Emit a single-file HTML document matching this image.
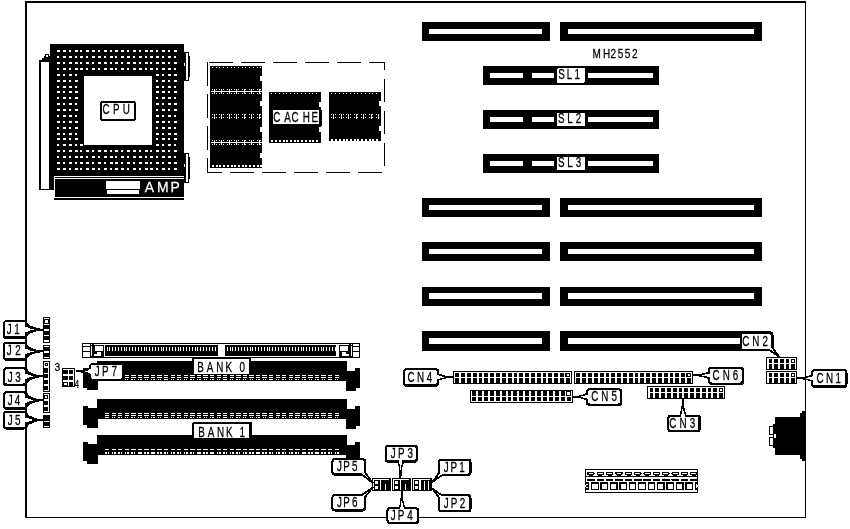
<!DOCTYPE html>
<html lang="en">
<head>
<meta charset="utf-8">
<title>MH2552 motherboard layout</title>
<style>
html,body{margin:0;padding:0;background:#fff;}
body{width:850px;height:529px;overflow:hidden;}
svg{display:block;font-family:"Liberation Sans",sans-serif;will-change:transform;}
svg rect,svg polygon,svg path{shape-rendering:crispEdges;}
svg text{white-space:pre;}
</style>
</head>
<body>
<svg width="850" height="529" viewBox="0 0 850 529">
<rect x="0" y="0" width="850" height="529" fill="#fff"/>
<rect x="25" y="1" width="781" height="517" fill="#000"/>
<rect x="27" y="3" width="778" height="514" fill="#fff"/>
<rect x="39" y="60" width="11" height="130" fill="#000"/>
<rect x="41" y="62" width="8" height="126.6" fill="#fff"/>
<rect x="42" y="58" width="8" height="2" fill="#000"/>
<rect x="44" y="56" width="6" height="2" fill="#000"/>
<rect x="45" y="54" width="4" height="2" fill="#000"/>
<rect x="46" y="55" width="2" height="2" fill="#fff"/>
<rect x="50" y="44" width="134" height="132" fill="#000"/>
<rect x="49" y="170" width="5.4" height="20" fill="#000"/>
<rect x="57" y="50" width="3" height="2" fill="#fff"/>
<rect x="63" y="50" width="3" height="2" fill="#fff"/>
<rect x="69" y="50" width="2" height="2" fill="#fff"/>
<rect x="75" y="50" width="3" height="2" fill="#fff"/>
<rect x="80" y="50" width="2" height="2" fill="#fff"/>
<rect x="86" y="50" width="3" height="2" fill="#fff"/>
<rect x="92" y="50" width="3" height="2" fill="#fff"/>
<rect x="98" y="50" width="2" height="2" fill="#fff"/>
<rect x="104" y="50" width="3" height="2" fill="#fff"/>
<rect x="110" y="50" width="2" height="2" fill="#fff"/>
<rect x="115" y="50" width="3" height="2" fill="#fff"/>
<rect x="121" y="50" width="3" height="2" fill="#fff"/>
<rect x="127" y="50" width="2" height="2" fill="#fff"/>
<rect x="133" y="50" width="3" height="2" fill="#fff"/>
<rect x="139" y="50" width="2" height="2" fill="#fff"/>
<rect x="145" y="50" width="3" height="2" fill="#fff"/>
<rect x="150" y="50" width="3" height="2" fill="#fff"/>
<rect x="156" y="50" width="2" height="2" fill="#fff"/>
<rect x="162" y="50" width="3" height="2" fill="#fff"/>
<rect x="168" y="50" width="2" height="2" fill="#fff"/>
<rect x="174" y="50" width="3" height="2" fill="#fff"/>
<rect x="57" y="56" width="2" height="2" fill="#fff"/>
<rect x="63" y="56" width="3" height="2" fill="#fff"/>
<rect x="69" y="56" width="3" height="2" fill="#fff"/>
<rect x="75" y="56" width="2" height="2" fill="#fff"/>
<rect x="80" y="56" width="3" height="2" fill="#fff"/>
<rect x="86" y="56" width="2" height="2" fill="#fff"/>
<rect x="92" y="56" width="3" height="2" fill="#fff"/>
<rect x="98" y="56" width="3" height="2" fill="#fff"/>
<rect x="104" y="56" width="2" height="2" fill="#fff"/>
<rect x="110" y="56" width="3" height="2" fill="#fff"/>
<rect x="115" y="56" width="2" height="2" fill="#fff"/>
<rect x="121" y="56" width="3" height="2" fill="#fff"/>
<rect x="127" y="56" width="3" height="2" fill="#fff"/>
<rect x="133" y="56" width="2" height="2" fill="#fff"/>
<rect x="139" y="56" width="3" height="2" fill="#fff"/>
<rect x="145" y="56" width="2" height="2" fill="#fff"/>
<rect x="150" y="56" width="3" height="2" fill="#fff"/>
<rect x="156" y="56" width="3" height="2" fill="#fff"/>
<rect x="162" y="56" width="2" height="2" fill="#fff"/>
<rect x="168" y="56" width="3" height="2" fill="#fff"/>
<rect x="174" y="56" width="2" height="2" fill="#fff"/>
<rect x="57" y="62" width="3" height="2" fill="#fff"/>
<rect x="63" y="62" width="2" height="2" fill="#fff"/>
<rect x="69" y="62" width="3" height="2" fill="#fff"/>
<rect x="75" y="62" width="3" height="2" fill="#fff"/>
<rect x="80" y="62" width="2" height="2" fill="#fff"/>
<rect x="86" y="62" width="3" height="2" fill="#fff"/>
<rect x="92" y="62" width="2" height="2" fill="#fff"/>
<rect x="98" y="62" width="3" height="2" fill="#fff"/>
<rect x="104" y="62" width="3" height="2" fill="#fff"/>
<rect x="110" y="62" width="2" height="2" fill="#fff"/>
<rect x="115" y="62" width="3" height="2" fill="#fff"/>
<rect x="121" y="62" width="2" height="2" fill="#fff"/>
<rect x="127" y="62" width="3" height="2" fill="#fff"/>
<rect x="133" y="62" width="3" height="2" fill="#fff"/>
<rect x="139" y="62" width="2" height="2" fill="#fff"/>
<rect x="145" y="62" width="3" height="2" fill="#fff"/>
<rect x="150" y="62" width="2" height="2" fill="#fff"/>
<rect x="156" y="62" width="3" height="2" fill="#fff"/>
<rect x="162" y="62" width="3" height="2" fill="#fff"/>
<rect x="168" y="62" width="2" height="2" fill="#fff"/>
<rect x="174" y="62" width="3" height="2" fill="#fff"/>
<rect x="57" y="68" width="2" height="2" fill="#fff"/>
<rect x="63" y="68" width="3" height="2" fill="#fff"/>
<rect x="69" y="68" width="2" height="2" fill="#fff"/>
<rect x="75" y="68" width="3" height="2" fill="#fff"/>
<rect x="80" y="68" width="3" height="2" fill="#fff"/>
<rect x="86" y="68" width="2" height="2" fill="#fff"/>
<rect x="92" y="68" width="3" height="2" fill="#fff"/>
<rect x="98" y="68" width="2" height="2" fill="#fff"/>
<rect x="104" y="68" width="3" height="2" fill="#fff"/>
<rect x="110" y="68" width="3" height="2" fill="#fff"/>
<rect x="115" y="68" width="2" height="2" fill="#fff"/>
<rect x="121" y="68" width="3" height="2" fill="#fff"/>
<rect x="127" y="68" width="2" height="2" fill="#fff"/>
<rect x="133" y="68" width="3" height="2" fill="#fff"/>
<rect x="139" y="68" width="3" height="2" fill="#fff"/>
<rect x="145" y="68" width="2" height="2" fill="#fff"/>
<rect x="150" y="68" width="3" height="2" fill="#fff"/>
<rect x="156" y="68" width="2" height="2" fill="#fff"/>
<rect x="162" y="68" width="3" height="2" fill="#fff"/>
<rect x="168" y="68" width="3" height="2" fill="#fff"/>
<rect x="174" y="68" width="2" height="2" fill="#fff"/>
<rect x="57" y="74" width="3" height="2" fill="#fff"/>
<rect x="63" y="74" width="2" height="2" fill="#fff"/>
<rect x="69" y="74" width="3" height="2" fill="#fff"/>
<rect x="75" y="74" width="2" height="2" fill="#fff"/>
<rect x="156" y="74" width="3" height="2" fill="#fff"/>
<rect x="162" y="74" width="2" height="2" fill="#fff"/>
<rect x="168" y="74" width="3" height="2" fill="#fff"/>
<rect x="174" y="74" width="3" height="2" fill="#fff"/>
<rect x="57" y="80" width="3" height="2" fill="#fff"/>
<rect x="63" y="80" width="3" height="2" fill="#fff"/>
<rect x="69" y="80" width="2" height="2" fill="#fff"/>
<rect x="75" y="80" width="3" height="2" fill="#fff"/>
<rect x="156" y="80" width="2" height="2" fill="#fff"/>
<rect x="162" y="80" width="3" height="2" fill="#fff"/>
<rect x="168" y="80" width="2" height="2" fill="#fff"/>
<rect x="174" y="80" width="3" height="2" fill="#fff"/>
<rect x="57" y="86" width="2" height="2" fill="#fff"/>
<rect x="63" y="86" width="3" height="2" fill="#fff"/>
<rect x="69" y="86" width="3" height="2" fill="#fff"/>
<rect x="75" y="86" width="2" height="2" fill="#fff"/>
<rect x="156" y="86" width="3" height="2" fill="#fff"/>
<rect x="162" y="86" width="2" height="2" fill="#fff"/>
<rect x="168" y="86" width="3" height="2" fill="#fff"/>
<rect x="174" y="86" width="2" height="2" fill="#fff"/>
<rect x="57" y="91" width="3" height="2" fill="#fff"/>
<rect x="63" y="91" width="2" height="2" fill="#fff"/>
<rect x="69" y="91" width="3" height="2" fill="#fff"/>
<rect x="75" y="91" width="3" height="2" fill="#fff"/>
<rect x="156" y="91" width="3" height="2" fill="#fff"/>
<rect x="162" y="91" width="3" height="2" fill="#fff"/>
<rect x="168" y="91" width="2" height="2" fill="#fff"/>
<rect x="174" y="91" width="3" height="2" fill="#fff"/>
<rect x="57" y="97" width="2" height="2" fill="#fff"/>
<rect x="63" y="97" width="3" height="2" fill="#fff"/>
<rect x="69" y="97" width="2" height="2" fill="#fff"/>
<rect x="75" y="97" width="3" height="2" fill="#fff"/>
<rect x="156" y="97" width="2" height="2" fill="#fff"/>
<rect x="162" y="97" width="3" height="2" fill="#fff"/>
<rect x="168" y="97" width="3" height="2" fill="#fff"/>
<rect x="174" y="97" width="2" height="2" fill="#fff"/>
<rect x="57" y="103" width="3" height="2" fill="#fff"/>
<rect x="63" y="103" width="2" height="2" fill="#fff"/>
<rect x="69" y="103" width="3" height="2" fill="#fff"/>
<rect x="75" y="103" width="2" height="2" fill="#fff"/>
<rect x="156" y="103" width="3" height="2" fill="#fff"/>
<rect x="162" y="103" width="2" height="2" fill="#fff"/>
<rect x="168" y="103" width="3" height="2" fill="#fff"/>
<rect x="174" y="103" width="3" height="2" fill="#fff"/>
<rect x="57" y="109" width="3" height="2" fill="#fff"/>
<rect x="63" y="109" width="3" height="2" fill="#fff"/>
<rect x="69" y="109" width="2" height="2" fill="#fff"/>
<rect x="75" y="109" width="3" height="2" fill="#fff"/>
<rect x="156" y="109" width="2" height="2" fill="#fff"/>
<rect x="162" y="109" width="3" height="2" fill="#fff"/>
<rect x="168" y="109" width="2" height="2" fill="#fff"/>
<rect x="174" y="109" width="3" height="2" fill="#fff"/>
<rect x="57" y="115" width="2" height="2" fill="#fff"/>
<rect x="63" y="115" width="3" height="2" fill="#fff"/>
<rect x="69" y="115" width="3" height="2" fill="#fff"/>
<rect x="75" y="115" width="2" height="2" fill="#fff"/>
<rect x="156" y="115" width="3" height="2" fill="#fff"/>
<rect x="162" y="115" width="2" height="2" fill="#fff"/>
<rect x="168" y="115" width="3" height="2" fill="#fff"/>
<rect x="174" y="115" width="2" height="2" fill="#fff"/>
<rect x="57" y="121" width="3" height="2" fill="#fff"/>
<rect x="63" y="121" width="2" height="2" fill="#fff"/>
<rect x="69" y="121" width="3" height="2" fill="#fff"/>
<rect x="75" y="121" width="3" height="2" fill="#fff"/>
<rect x="156" y="121" width="3" height="2" fill="#fff"/>
<rect x="162" y="121" width="3" height="2" fill="#fff"/>
<rect x="168" y="121" width="2" height="2" fill="#fff"/>
<rect x="174" y="121" width="3" height="2" fill="#fff"/>
<rect x="57" y="127" width="2" height="2" fill="#fff"/>
<rect x="63" y="127" width="3" height="2" fill="#fff"/>
<rect x="69" y="127" width="2" height="2" fill="#fff"/>
<rect x="75" y="127" width="3" height="2" fill="#fff"/>
<rect x="156" y="127" width="2" height="2" fill="#fff"/>
<rect x="162" y="127" width="3" height="2" fill="#fff"/>
<rect x="168" y="127" width="3" height="2" fill="#fff"/>
<rect x="174" y="127" width="2" height="2" fill="#fff"/>
<rect x="57" y="133" width="3" height="2" fill="#fff"/>
<rect x="63" y="133" width="2" height="2" fill="#fff"/>
<rect x="69" y="133" width="3" height="2" fill="#fff"/>
<rect x="75" y="133" width="2" height="2" fill="#fff"/>
<rect x="156" y="133" width="3" height="2" fill="#fff"/>
<rect x="162" y="133" width="2" height="2" fill="#fff"/>
<rect x="168" y="133" width="3" height="2" fill="#fff"/>
<rect x="174" y="133" width="3" height="2" fill="#fff"/>
<rect x="57" y="138" width="3" height="2" fill="#fff"/>
<rect x="63" y="138" width="3" height="2" fill="#fff"/>
<rect x="69" y="138" width="2" height="2" fill="#fff"/>
<rect x="75" y="138" width="3" height="2" fill="#fff"/>
<rect x="156" y="138" width="2" height="2" fill="#fff"/>
<rect x="162" y="138" width="3" height="2" fill="#fff"/>
<rect x="168" y="138" width="2" height="2" fill="#fff"/>
<rect x="174" y="138" width="3" height="2" fill="#fff"/>
<rect x="57" y="144" width="2" height="2" fill="#fff"/>
<rect x="63" y="144" width="3" height="2" fill="#fff"/>
<rect x="69" y="144" width="3" height="2" fill="#fff"/>
<rect x="75" y="144" width="2" height="2" fill="#fff"/>
<rect x="80" y="144" width="3" height="2" fill="#fff"/>
<rect x="156" y="144" width="3" height="2" fill="#fff"/>
<rect x="162" y="144" width="2" height="2" fill="#fff"/>
<rect x="168" y="144" width="3" height="2" fill="#fff"/>
<rect x="174" y="144" width="2" height="2" fill="#fff"/>
<rect x="57" y="150" width="3" height="2" fill="#fff"/>
<rect x="63" y="150" width="2" height="2" fill="#fff"/>
<rect x="69" y="150" width="3" height="2" fill="#fff"/>
<rect x="75" y="150" width="3" height="2" fill="#fff"/>
<rect x="80" y="150" width="2" height="2" fill="#fff"/>
<rect x="86" y="150" width="3" height="2" fill="#fff"/>
<rect x="92" y="150" width="2" height="2" fill="#fff"/>
<rect x="98" y="150" width="3" height="2" fill="#fff"/>
<rect x="104" y="150" width="3" height="2" fill="#fff"/>
<rect x="110" y="150" width="2" height="2" fill="#fff"/>
<rect x="115" y="150" width="3" height="2" fill="#fff"/>
<rect x="121" y="150" width="2" height="2" fill="#fff"/>
<rect x="127" y="150" width="3" height="2" fill="#fff"/>
<rect x="133" y="150" width="3" height="2" fill="#fff"/>
<rect x="139" y="150" width="2" height="2" fill="#fff"/>
<rect x="145" y="150" width="3" height="2" fill="#fff"/>
<rect x="150" y="150" width="2" height="2" fill="#fff"/>
<rect x="156" y="150" width="3" height="2" fill="#fff"/>
<rect x="162" y="150" width="3" height="2" fill="#fff"/>
<rect x="168" y="150" width="2" height="2" fill="#fff"/>
<rect x="174" y="150" width="3" height="2" fill="#fff"/>
<rect x="57" y="156" width="2" height="2" fill="#fff"/>
<rect x="63" y="156" width="3" height="2" fill="#fff"/>
<rect x="69" y="156" width="2" height="2" fill="#fff"/>
<rect x="75" y="156" width="3" height="2" fill="#fff"/>
<rect x="80" y="156" width="3" height="2" fill="#fff"/>
<rect x="86" y="156" width="2" height="2" fill="#fff"/>
<rect x="92" y="156" width="3" height="2" fill="#fff"/>
<rect x="98" y="156" width="2" height="2" fill="#fff"/>
<rect x="104" y="156" width="3" height="2" fill="#fff"/>
<rect x="110" y="156" width="3" height="2" fill="#fff"/>
<rect x="115" y="156" width="2" height="2" fill="#fff"/>
<rect x="121" y="156" width="3" height="2" fill="#fff"/>
<rect x="127" y="156" width="2" height="2" fill="#fff"/>
<rect x="133" y="156" width="3" height="2" fill="#fff"/>
<rect x="139" y="156" width="3" height="2" fill="#fff"/>
<rect x="145" y="156" width="2" height="2" fill="#fff"/>
<rect x="150" y="156" width="3" height="2" fill="#fff"/>
<rect x="156" y="156" width="2" height="2" fill="#fff"/>
<rect x="162" y="156" width="3" height="2" fill="#fff"/>
<rect x="168" y="156" width="3" height="2" fill="#fff"/>
<rect x="174" y="156" width="2" height="2" fill="#fff"/>
<rect x="57" y="162" width="3" height="2" fill="#fff"/>
<rect x="63" y="162" width="2" height="2" fill="#fff"/>
<rect x="69" y="162" width="3" height="2" fill="#fff"/>
<rect x="75" y="162" width="2" height="2" fill="#fff"/>
<rect x="80" y="162" width="3" height="2" fill="#fff"/>
<rect x="86" y="162" width="3" height="2" fill="#fff"/>
<rect x="92" y="162" width="2" height="2" fill="#fff"/>
<rect x="98" y="162" width="3" height="2" fill="#fff"/>
<rect x="104" y="162" width="2" height="2" fill="#fff"/>
<rect x="110" y="162" width="3" height="2" fill="#fff"/>
<rect x="115" y="162" width="3" height="2" fill="#fff"/>
<rect x="121" y="162" width="2" height="2" fill="#fff"/>
<rect x="127" y="162" width="3" height="2" fill="#fff"/>
<rect x="133" y="162" width="2" height="2" fill="#fff"/>
<rect x="139" y="162" width="3" height="2" fill="#fff"/>
<rect x="145" y="162" width="3" height="2" fill="#fff"/>
<rect x="150" y="162" width="2" height="2" fill="#fff"/>
<rect x="156" y="162" width="3" height="2" fill="#fff"/>
<rect x="162" y="162" width="2" height="2" fill="#fff"/>
<rect x="168" y="162" width="3" height="2" fill="#fff"/>
<rect x="174" y="162" width="3" height="2" fill="#fff"/>
<rect x="57" y="168" width="3" height="2" fill="#fff"/>
<rect x="63" y="168" width="3" height="2" fill="#fff"/>
<rect x="69" y="168" width="2" height="2" fill="#fff"/>
<rect x="75" y="168" width="3" height="2" fill="#fff"/>
<rect x="80" y="168" width="2" height="2" fill="#fff"/>
<rect x="86" y="168" width="3" height="2" fill="#fff"/>
<rect x="92" y="168" width="3" height="2" fill="#fff"/>
<rect x="98" y="168" width="2" height="2" fill="#fff"/>
<rect x="104" y="168" width="3" height="2" fill="#fff"/>
<rect x="110" y="168" width="2" height="2" fill="#fff"/>
<rect x="115" y="168" width="3" height="2" fill="#fff"/>
<rect x="121" y="168" width="3" height="2" fill="#fff"/>
<rect x="127" y="168" width="2" height="2" fill="#fff"/>
<rect x="133" y="168" width="3" height="2" fill="#fff"/>
<rect x="139" y="168" width="2" height="2" fill="#fff"/>
<rect x="145" y="168" width="3" height="2" fill="#fff"/>
<rect x="150" y="168" width="3" height="2" fill="#fff"/>
<rect x="156" y="168" width="2" height="2" fill="#fff"/>
<rect x="162" y="168" width="3" height="2" fill="#fff"/>
<rect x="168" y="168" width="2" height="2" fill="#fff"/>
<rect x="174" y="168" width="3" height="2" fill="#fff"/>
<rect x="84" y="76" width="68" height="69" fill="#fff"/>
<rect x="100" y="101" width="36" height="19.8" fill="#000" rx="2.5" shape-rendering="geometricPrecision"/>
<rect x="102" y="103" width="32" height="15.8" fill="#fff" rx="1.2" shape-rendering="geometricPrecision"/>
<text transform="scale(0.68,1)" x="150.73 166.16 180.65" y="114" font-size="14.5" fill="#000" stroke="#000" stroke-width="0.25" vector-effect="non-scaling-stroke">CPU</text>
<rect x="54.4" y="176" width="129.6" height="24" fill="#000"/>
<rect x="54.4" y="176" width="129.6" height="1" fill="#fff"/>
<rect x="54.4" y="178.2" width="129.6" height="1" fill="#fff"/>
<rect x="54.4" y="197" width="129.6" height="1.2" fill="#fff"/>
<rect x="54.4" y="176" width="0.9" height="22.2" fill="#fff"/>
<rect x="106" y="181" width="34" height="7.5" fill="#fff"/>
<rect x="107" y="190" width="32" height="4" fill="#fff"/>
<text transform="scale(0.92,1)" x="157.25 170.7 185.45" y="192.4" font-size="15.2" fill="#fff" stroke="#fff" stroke-width="0.25" vector-effect="non-scaling-stroke">AMP</text>
<rect x="184" y="52" width="5.2" height="29" fill="#000"/>
<rect x="186.1" y="53.1" width="2.1" height="26.8" fill="#fff"/>
<rect x="189" y="56" width="1.3" height="21" fill="#000"/>
<rect x="184" y="62.5" width="1" height="3" fill="#fff"/>
<rect x="184" y="153" width="5.2" height="29.6" fill="#000"/>
<rect x="186.1" y="154.1" width="2.1" height="27.4" fill="#fff"/>
<rect x="189" y="157" width="1.3" height="21.6" fill="#000"/>
<rect x="184" y="163.5" width="1" height="3" fill="#fff"/>
<path d="M209 62.5H385" stroke="#000" stroke-width="1" stroke-dasharray="24 8" fill="none"/>
<path d="M207.5 62V172.6" stroke="#000" stroke-width="1" stroke-dasharray="23.6 8.4" fill="none"/>
<path d="M384.5 62V172" stroke="#000" stroke-width="1" stroke-dasharray="23.6 8.4" stroke-dashoffset="15.4" fill="none"/>
<path d="M207 172.5H382" stroke="#000" stroke-width="1" stroke-dasharray="24 8" stroke-dashoffset="9" fill="none"/>
<rect x="210" y="66.2" width="52" height="101.8" fill="#000"/>
<rect x="212" y="67" width="1" height="1" fill="#fff"/>
<rect x="216" y="67" width="1" height="1" fill="#fff"/>
<rect x="219" y="67" width="1" height="1" fill="#fff"/>
<rect x="223" y="67" width="1" height="1" fill="#fff"/>
<rect x="227" y="67" width="1" height="1" fill="#fff"/>
<rect x="231" y="67" width="1" height="1" fill="#fff"/>
<rect x="234" y="67" width="1" height="1" fill="#fff"/>
<rect x="238" y="67" width="1" height="1" fill="#fff"/>
<rect x="242" y="67" width="1" height="1" fill="#fff"/>
<rect x="245" y="67" width="1" height="1" fill="#fff"/>
<rect x="249" y="67" width="1" height="1" fill="#fff"/>
<rect x="253" y="67" width="1" height="1" fill="#fff"/>
<rect x="257" y="67" width="1" height="1" fill="#fff"/>
<rect x="260" y="67" width="1" height="1" fill="#fff"/>
<rect x="212" y="89" width="1" height="1" fill="#fff"/>
<rect x="216" y="89" width="1" height="1" fill="#fff"/>
<rect x="219" y="89" width="1" height="1" fill="#fff"/>
<rect x="223" y="89" width="1" height="1" fill="#fff"/>
<rect x="227" y="89" width="1" height="1" fill="#fff"/>
<rect x="231" y="89" width="1" height="1" fill="#fff"/>
<rect x="234" y="89" width="1" height="1" fill="#fff"/>
<rect x="238" y="89" width="1" height="1" fill="#fff"/>
<rect x="242" y="89" width="1" height="1" fill="#fff"/>
<rect x="245" y="89" width="1" height="1" fill="#fff"/>
<rect x="249" y="89" width="1" height="1" fill="#fff"/>
<rect x="253" y="89" width="1" height="1" fill="#fff"/>
<rect x="257" y="89" width="1" height="1" fill="#fff"/>
<rect x="260" y="89" width="1" height="1" fill="#fff"/>
<rect x="211" y="91" width="51" height="1" fill="#fff"/>
<rect x="214" y="89" width="1" height="5" fill="#fff"/>
<rect x="221" y="89" width="1" height="5" fill="#fff"/>
<rect x="229" y="89" width="1" height="5" fill="#fff"/>
<rect x="236" y="89" width="1" height="5" fill="#fff"/>
<rect x="244" y="89" width="1" height="5" fill="#fff"/>
<rect x="251" y="89" width="1" height="5" fill="#fff"/>
<rect x="259" y="89" width="1" height="5" fill="#fff"/>
<rect x="212" y="93" width="1" height="1" fill="#fff"/>
<rect x="216" y="93" width="1" height="1" fill="#fff"/>
<rect x="219" y="93" width="1" height="1" fill="#fff"/>
<rect x="223" y="93" width="1" height="1" fill="#fff"/>
<rect x="227" y="93" width="1" height="1" fill="#fff"/>
<rect x="231" y="93" width="1" height="1" fill="#fff"/>
<rect x="234" y="93" width="1" height="1" fill="#fff"/>
<rect x="238" y="93" width="1" height="1" fill="#fff"/>
<rect x="242" y="93" width="1" height="1" fill="#fff"/>
<rect x="245" y="93" width="1" height="1" fill="#fff"/>
<rect x="249" y="93" width="1" height="1" fill="#fff"/>
<rect x="253" y="93" width="1" height="1" fill="#fff"/>
<rect x="257" y="93" width="1" height="1" fill="#fff"/>
<rect x="260" y="93" width="1" height="1" fill="#fff"/>
<rect x="212" y="140" width="1" height="1" fill="#fff"/>
<rect x="216" y="140" width="1" height="1" fill="#fff"/>
<rect x="219" y="140" width="1" height="1" fill="#fff"/>
<rect x="223" y="140" width="1" height="1" fill="#fff"/>
<rect x="227" y="140" width="1" height="1" fill="#fff"/>
<rect x="231" y="140" width="1" height="1" fill="#fff"/>
<rect x="234" y="140" width="1" height="1" fill="#fff"/>
<rect x="238" y="140" width="1" height="1" fill="#fff"/>
<rect x="242" y="140" width="1" height="1" fill="#fff"/>
<rect x="245" y="140" width="1" height="1" fill="#fff"/>
<rect x="249" y="140" width="1" height="1" fill="#fff"/>
<rect x="253" y="140" width="1" height="1" fill="#fff"/>
<rect x="257" y="140" width="1" height="1" fill="#fff"/>
<rect x="260" y="140" width="1" height="1" fill="#fff"/>
<rect x="211" y="142" width="51" height="1" fill="#fff"/>
<rect x="214" y="140" width="1" height="5" fill="#fff"/>
<rect x="221" y="140" width="1" height="5" fill="#fff"/>
<rect x="229" y="140" width="1" height="5" fill="#fff"/>
<rect x="236" y="140" width="1" height="5" fill="#fff"/>
<rect x="244" y="140" width="1" height="5" fill="#fff"/>
<rect x="251" y="140" width="1" height="5" fill="#fff"/>
<rect x="259" y="140" width="1" height="5" fill="#fff"/>
<rect x="212" y="144" width="1" height="1" fill="#fff"/>
<rect x="216" y="144" width="1" height="1" fill="#fff"/>
<rect x="219" y="144" width="1" height="1" fill="#fff"/>
<rect x="223" y="144" width="1" height="1" fill="#fff"/>
<rect x="227" y="144" width="1" height="1" fill="#fff"/>
<rect x="231" y="144" width="1" height="1" fill="#fff"/>
<rect x="234" y="144" width="1" height="1" fill="#fff"/>
<rect x="238" y="144" width="1" height="1" fill="#fff"/>
<rect x="242" y="144" width="1" height="1" fill="#fff"/>
<rect x="245" y="144" width="1" height="1" fill="#fff"/>
<rect x="249" y="144" width="1" height="1" fill="#fff"/>
<rect x="253" y="144" width="1" height="1" fill="#fff"/>
<rect x="257" y="144" width="1" height="1" fill="#fff"/>
<rect x="260" y="144" width="1" height="1" fill="#fff"/>
<rect x="212" y="114" width="1" height="1" fill="#fff"/>
<rect x="216" y="114" width="1" height="1" fill="#fff"/>
<rect x="219" y="114" width="1" height="1" fill="#fff"/>
<rect x="223" y="114" width="1" height="1" fill="#fff"/>
<rect x="227" y="114" width="1" height="1" fill="#fff"/>
<rect x="231" y="114" width="1" height="1" fill="#fff"/>
<rect x="234" y="114" width="1" height="1" fill="#fff"/>
<rect x="238" y="114" width="1" height="1" fill="#fff"/>
<rect x="242" y="114" width="1" height="1" fill="#fff"/>
<rect x="245" y="114" width="1" height="1" fill="#fff"/>
<rect x="249" y="114" width="1" height="1" fill="#fff"/>
<rect x="253" y="114" width="1" height="1" fill="#fff"/>
<rect x="257" y="114" width="1" height="1" fill="#fff"/>
<rect x="260" y="114" width="1" height="1" fill="#fff"/>
<rect x="212" y="117" width="1" height="1" fill="#fff"/>
<rect x="216" y="117" width="1" height="1" fill="#fff"/>
<rect x="219" y="117" width="1" height="1" fill="#fff"/>
<rect x="223" y="117" width="1" height="1" fill="#fff"/>
<rect x="227" y="117" width="1" height="1" fill="#fff"/>
<rect x="231" y="117" width="1" height="1" fill="#fff"/>
<rect x="234" y="117" width="1" height="1" fill="#fff"/>
<rect x="238" y="117" width="1" height="1" fill="#fff"/>
<rect x="242" y="117" width="1" height="1" fill="#fff"/>
<rect x="245" y="117" width="1" height="1" fill="#fff"/>
<rect x="249" y="117" width="1" height="1" fill="#fff"/>
<rect x="253" y="117" width="1" height="1" fill="#fff"/>
<rect x="257" y="117" width="1" height="1" fill="#fff"/>
<rect x="260" y="117" width="1" height="1" fill="#fff"/>
<rect x="214" y="114" width="1" height="5" fill="#fff"/>
<rect x="221" y="114" width="1" height="5" fill="#fff"/>
<rect x="229" y="114" width="1" height="5" fill="#fff"/>
<rect x="236" y="114" width="1" height="5" fill="#fff"/>
<rect x="244" y="114" width="1" height="5" fill="#fff"/>
<rect x="251" y="114" width="1" height="5" fill="#fff"/>
<rect x="259" y="114" width="1" height="5" fill="#fff"/>
<rect x="212" y="165" width="2" height="2" fill="#fff"/>
<rect x="216" y="165" width="2" height="2" fill="#fff"/>
<rect x="219" y="165" width="2" height="2" fill="#fff"/>
<rect x="223" y="165" width="2" height="2" fill="#fff"/>
<rect x="227" y="165" width="2" height="2" fill="#fff"/>
<rect x="231" y="165" width="2" height="2" fill="#fff"/>
<rect x="234" y="165" width="2" height="2" fill="#fff"/>
<rect x="238" y="165" width="2" height="2" fill="#fff"/>
<rect x="242" y="165" width="2" height="2" fill="#fff"/>
<rect x="245" y="165" width="2" height="2" fill="#fff"/>
<rect x="249" y="165" width="2" height="2" fill="#fff"/>
<rect x="253" y="165" width="2" height="2" fill="#fff"/>
<rect x="257" y="165" width="2" height="2" fill="#fff"/>
<rect x="260" y="165" width="2" height="2" fill="#fff"/>
<rect x="260" y="76.2" width="2" height="4.6" fill="#fff"/>
<rect x="260" y="101.3" width="2" height="4.6" fill="#fff"/>
<rect x="260" y="127.2" width="2" height="4.6" fill="#fff"/>
<rect x="260" y="153.2" width="2" height="4.6" fill="#fff"/>
<rect x="269.4" y="92" width="51.6" height="50.6" fill="#000"/>
<rect x="321" y="110" width="1.4" height="16" fill="#000"/>
<rect x="271" y="93" width="1" height="1" fill="#fff"/>
<rect x="275" y="93" width="1" height="1" fill="#fff"/>
<rect x="279" y="93" width="1" height="1" fill="#fff"/>
<rect x="283" y="93" width="1" height="1" fill="#fff"/>
<rect x="286" y="93" width="1" height="1" fill="#fff"/>
<rect x="290" y="93" width="1" height="1" fill="#fff"/>
<rect x="294" y="93" width="1" height="1" fill="#fff"/>
<rect x="297" y="93" width="1" height="1" fill="#fff"/>
<rect x="301" y="93" width="1" height="1" fill="#fff"/>
<rect x="305" y="93" width="1" height="1" fill="#fff"/>
<rect x="309" y="93" width="1" height="1" fill="#fff"/>
<rect x="312" y="93" width="1" height="1" fill="#fff"/>
<rect x="316" y="93" width="1" height="1" fill="#fff"/>
<rect x="271" y="140" width="2" height="2" fill="#fff"/>
<rect x="275" y="140" width="2" height="2" fill="#fff"/>
<rect x="279" y="140" width="2" height="2" fill="#fff"/>
<rect x="283" y="140" width="2" height="2" fill="#fff"/>
<rect x="286" y="140" width="2" height="2" fill="#fff"/>
<rect x="290" y="140" width="2" height="2" fill="#fff"/>
<rect x="294" y="140" width="2" height="2" fill="#fff"/>
<rect x="297" y="140" width="2" height="2" fill="#fff"/>
<rect x="301" y="140" width="2" height="2" fill="#fff"/>
<rect x="305" y="140" width="2" height="2" fill="#fff"/>
<rect x="309" y="140" width="2" height="2" fill="#fff"/>
<rect x="312" y="140" width="2" height="2" fill="#fff"/>
<rect x="316" y="140" width="2" height="2" fill="#fff"/>
<rect x="319" y="101.9" width="2" height="4.6" fill="#fff"/>
<rect x="319" y="127.3" width="2" height="4.6" fill="#fff"/>
<rect x="329.4" y="91.8" width="51.6" height="49.6" fill="#000"/>
<rect x="331" y="93" width="1" height="1" fill="#fff"/>
<rect x="335" y="93" width="1" height="1" fill="#fff"/>
<rect x="339" y="93" width="1" height="1" fill="#fff"/>
<rect x="343" y="93" width="1" height="1" fill="#fff"/>
<rect x="346" y="93" width="1" height="1" fill="#fff"/>
<rect x="350" y="93" width="1" height="1" fill="#fff"/>
<rect x="354" y="93" width="1" height="1" fill="#fff"/>
<rect x="357" y="93" width="1" height="1" fill="#fff"/>
<rect x="361" y="93" width="1" height="1" fill="#fff"/>
<rect x="365" y="93" width="1" height="1" fill="#fff"/>
<rect x="369" y="93" width="1" height="1" fill="#fff"/>
<rect x="372" y="93" width="1" height="1" fill="#fff"/>
<rect x="376" y="93" width="1" height="1" fill="#fff"/>
<rect x="331" y="114" width="1" height="1" fill="#fff"/>
<rect x="335" y="114" width="1" height="1" fill="#fff"/>
<rect x="339" y="114" width="1" height="1" fill="#fff"/>
<rect x="343" y="114" width="1" height="1" fill="#fff"/>
<rect x="346" y="114" width="1" height="1" fill="#fff"/>
<rect x="350" y="114" width="1" height="1" fill="#fff"/>
<rect x="354" y="114" width="1" height="1" fill="#fff"/>
<rect x="357" y="114" width="1" height="1" fill="#fff"/>
<rect x="361" y="114" width="1" height="1" fill="#fff"/>
<rect x="365" y="114" width="1" height="1" fill="#fff"/>
<rect x="369" y="114" width="1" height="1" fill="#fff"/>
<rect x="372" y="114" width="1" height="1" fill="#fff"/>
<rect x="376" y="114" width="1" height="1" fill="#fff"/>
<rect x="331" y="117" width="1" height="1" fill="#fff"/>
<rect x="335" y="117" width="1" height="1" fill="#fff"/>
<rect x="339" y="117" width="1" height="1" fill="#fff"/>
<rect x="343" y="117" width="1" height="1" fill="#fff"/>
<rect x="346" y="117" width="1" height="1" fill="#fff"/>
<rect x="350" y="117" width="1" height="1" fill="#fff"/>
<rect x="354" y="117" width="1" height="1" fill="#fff"/>
<rect x="357" y="117" width="1" height="1" fill="#fff"/>
<rect x="361" y="117" width="1" height="1" fill="#fff"/>
<rect x="365" y="117" width="1" height="1" fill="#fff"/>
<rect x="369" y="117" width="1" height="1" fill="#fff"/>
<rect x="372" y="117" width="1" height="1" fill="#fff"/>
<rect x="376" y="117" width="1" height="1" fill="#fff"/>
<rect x="333" y="114" width="1" height="5" fill="#fff"/>
<rect x="341" y="114" width="1" height="5" fill="#fff"/>
<rect x="348" y="114" width="1" height="5" fill="#fff"/>
<rect x="356" y="114" width="1" height="5" fill="#fff"/>
<rect x="363" y="114" width="1" height="5" fill="#fff"/>
<rect x="371" y="114" width="1" height="5" fill="#fff"/>
<rect x="378" y="114" width="1" height="5" fill="#fff"/>
<rect x="331" y="139" width="2" height="2" fill="#fff"/>
<rect x="335" y="139" width="2" height="2" fill="#fff"/>
<rect x="339" y="139" width="2" height="2" fill="#fff"/>
<rect x="343" y="139" width="2" height="2" fill="#fff"/>
<rect x="346" y="139" width="2" height="2" fill="#fff"/>
<rect x="350" y="139" width="2" height="2" fill="#fff"/>
<rect x="354" y="139" width="2" height="2" fill="#fff"/>
<rect x="357" y="139" width="2" height="2" fill="#fff"/>
<rect x="361" y="139" width="2" height="2" fill="#fff"/>
<rect x="365" y="139" width="2" height="2" fill="#fff"/>
<rect x="369" y="139" width="2" height="2" fill="#fff"/>
<rect x="372" y="139" width="2" height="2" fill="#fff"/>
<rect x="376" y="139" width="2" height="2" fill="#fff"/>
<rect x="379" y="101.3" width="2" height="4.6" fill="#fff"/>
<rect x="379" y="126.1" width="2" height="4.6" fill="#fff"/>
<rect x="273" y="110" width="46" height="14" fill="#fff"/>
<text transform="scale(0.68,1)" x="402.03 417.96 428.5 445.05 458.12" y="121.8" font-size="14.5" fill="#000" stroke="#000" stroke-width="0.25" vector-effect="non-scaling-stroke">CACHE</text>
<rect x="422" y="22" width="128" height="19" fill="#000"/>
<rect x="429" y="29" width="113" height="5" fill="#fff"/>
<rect x="560" y="22" width="202" height="19" fill="#000"/>
<rect x="568" y="29" width="186" height="5" fill="#fff"/>
<rect x="422" y="198" width="128" height="19" fill="#000"/>
<rect x="429" y="205" width="113" height="5" fill="#fff"/>
<rect x="560" y="198" width="202" height="19" fill="#000"/>
<rect x="568" y="205" width="186" height="5" fill="#fff"/>
<rect x="422" y="242" width="128" height="19" fill="#000"/>
<rect x="429" y="249" width="113" height="5" fill="#fff"/>
<rect x="560" y="242" width="202" height="19" fill="#000"/>
<rect x="568" y="249" width="186" height="5" fill="#fff"/>
<rect x="422" y="287" width="128" height="19" fill="#000"/>
<rect x="429" y="293" width="113" height="6" fill="#fff"/>
<rect x="560" y="287" width="202" height="19" fill="#000"/>
<rect x="568" y="293" width="186" height="6" fill="#fff"/>
<rect x="422" y="331" width="128" height="20" fill="#000"/>
<rect x="429" y="338" width="113" height="6" fill="#fff"/>
<rect x="560" y="331" width="202" height="20" fill="#000"/>
<rect x="568" y="338" width="186" height="6" fill="#fff"/>
<rect x="483" y="66" width="176" height="19" fill="#000"/>
<rect x="490" y="73" width="33" height="5" fill="#fff"/>
<rect x="532" y="73" width="22" height="5" fill="#fff"/>
<rect x="588" y="73" width="65" height="5" fill="#fff"/>
<rect x="557" y="68" width="28" height="15" fill="#fff" rx="2" shape-rendering="geometricPrecision"/>
<text transform="scale(0.68,1)" x="821.11 833.65 844.85" y="78.8" font-size="14.5" fill="#000" stroke="#000" stroke-width="0.25" vector-effect="non-scaling-stroke">SL1</text>
<rect x="483" y="110" width="176" height="19" fill="#000"/>
<rect x="490" y="117" width="33" height="5" fill="#fff"/>
<rect x="532" y="117" width="22" height="5" fill="#fff"/>
<rect x="588" y="117" width="65" height="5" fill="#fff"/>
<rect x="557" y="112.6" width="28" height="13.8" fill="#fff"/>
<text transform="scale(0.68,1)" x="820.67 834.21 846.78" y="123" font-size="14.5" fill="#000" stroke="#000" stroke-width="0.25" vector-effect="non-scaling-stroke">SL2</text>
<rect x="483" y="154" width="176" height="19" fill="#000"/>
<rect x="490" y="161" width="33" height="5" fill="#fff"/>
<rect x="532" y="161" width="22" height="5" fill="#fff"/>
<rect x="588" y="161" width="65" height="5" fill="#fff"/>
<rect x="557" y="156.6" width="28" height="13.8" fill="#fff"/>
<text transform="scale(0.68,1)" x="820.67 834.07 846.69" y="167" font-size="14.5" fill="#000" stroke="#000" stroke-width="0.25" vector-effect="non-scaling-stroke">SL3</text>
<text transform="scale(0.8,1)" x="740.54 753.73 763.15 772.04 781.04 789.9" y="57.9" font-size="12.5" fill="#000" stroke="#000" stroke-width="0.25" vector-effect="non-scaling-stroke">MH2552</text>
<rect x="453" y="371.2" width="119" height="12.8" fill="#000"/>
<rect x="454" y="372.2" width="117" height="1.1" fill="#fff"/>
<rect x="454" y="372.2" width="1.1" height="10.8" fill="#fff"/>
<rect x="569.9" y="372.2" width="1.1" height="10.8" fill="#fff"/>
<rect x="454" y="376.9" width="117" height="1.4" fill="#fff"/>
<rect x="459.03" y="372.2" width="2" height="10.8" fill="#fff"/>
<rect x="464.86" y="372.2" width="2" height="10.8" fill="#fff"/>
<rect x="470.69" y="372.2" width="2" height="10.8" fill="#fff"/>
<rect x="476.52" y="372.2" width="2" height="10.8" fill="#fff"/>
<rect x="482.35" y="372.2" width="2" height="10.8" fill="#fff"/>
<rect x="488.18" y="372.2" width="2" height="10.8" fill="#fff"/>
<rect x="494.01" y="372.2" width="2" height="10.8" fill="#fff"/>
<rect x="499.84" y="372.2" width="2" height="10.8" fill="#fff"/>
<rect x="505.67" y="372.2" width="2" height="10.8" fill="#fff"/>
<rect x="511.5" y="372.2" width="2" height="10.8" fill="#fff"/>
<rect x="517.33" y="372.2" width="2" height="10.8" fill="#fff"/>
<rect x="523.16" y="372.2" width="2" height="10.8" fill="#fff"/>
<rect x="528.99" y="372.2" width="2" height="10.8" fill="#fff"/>
<rect x="534.82" y="372.2" width="2" height="10.8" fill="#fff"/>
<rect x="540.65" y="372.2" width="2" height="10.8" fill="#fff"/>
<rect x="546.48" y="372.2" width="2" height="10.8" fill="#fff"/>
<rect x="552.31" y="372.2" width="2" height="10.8" fill="#fff"/>
<rect x="558.14" y="372.2" width="2" height="10.8" fill="#fff"/>
<rect x="563.97" y="372.2" width="2" height="10.8" fill="#fff"/>
<rect x="565.37" y="373.3" width="4.43" height="3.6" fill="#000"/>
<rect x="566.67" y="374.2" width="2.43" height="1.8" fill="#fff"/>
<rect x="574.3" y="371.2" width="118.7" height="12.8" fill="#000"/>
<rect x="575.3" y="372.2" width="116.7" height="1.1" fill="#fff"/>
<rect x="575.3" y="372.2" width="1.1" height="10.8" fill="#fff"/>
<rect x="690.9" y="372.2" width="1.1" height="10.8" fill="#fff"/>
<rect x="575.3" y="376.9" width="116.7" height="1.4" fill="#fff"/>
<rect x="580.32" y="372.2" width="2" height="10.8" fill="#fff"/>
<rect x="586.13" y="372.2" width="2" height="10.8" fill="#fff"/>
<rect x="591.95" y="372.2" width="2" height="10.8" fill="#fff"/>
<rect x="597.76" y="372.2" width="2" height="10.8" fill="#fff"/>
<rect x="603.58" y="372.2" width="2" height="10.8" fill="#fff"/>
<rect x="609.39" y="372.2" width="2" height="10.8" fill="#fff"/>
<rect x="615.21" y="372.2" width="2" height="10.8" fill="#fff"/>
<rect x="621.02" y="372.2" width="2" height="10.8" fill="#fff"/>
<rect x="626.84" y="372.2" width="2" height="10.8" fill="#fff"/>
<rect x="632.65" y="372.2" width="2" height="10.8" fill="#fff"/>
<rect x="638.47" y="372.2" width="2" height="10.8" fill="#fff"/>
<rect x="644.28" y="372.2" width="2" height="10.8" fill="#fff"/>
<rect x="650.1" y="372.2" width="2" height="10.8" fill="#fff"/>
<rect x="655.91" y="372.2" width="2" height="10.8" fill="#fff"/>
<rect x="661.73" y="372.2" width="2" height="10.8" fill="#fff"/>
<rect x="667.54" y="372.2" width="2" height="10.8" fill="#fff"/>
<rect x="673.36" y="372.2" width="2" height="10.8" fill="#fff"/>
<rect x="679.17" y="372.2" width="2" height="10.8" fill="#fff"/>
<rect x="684.99" y="372.2" width="2" height="10.8" fill="#fff"/>
<rect x="686.38" y="373.3" width="4.42" height="3.6" fill="#000"/>
<rect x="687.68" y="374.2" width="2.42" height="1.8" fill="#fff"/>
<rect x="470" y="390" width="102.6" height="13" fill="#000"/>
<rect x="471" y="400.9" width="100.6" height="1.1" fill="#fff"/>
<rect x="471" y="391" width="1.1" height="11" fill="#fff"/>
<rect x="570.5" y="391" width="1.1" height="11" fill="#fff"/>
<rect x="471" y="396.1" width="100.6" height="1.3" fill="#fff"/>
<rect x="476.09" y="391" width="2" height="11" fill="#fff"/>
<rect x="481.99" y="391" width="2" height="11" fill="#fff"/>
<rect x="487.88" y="391" width="2" height="11" fill="#fff"/>
<rect x="493.78" y="391" width="2" height="11" fill="#fff"/>
<rect x="499.67" y="391" width="2" height="11" fill="#fff"/>
<rect x="505.56" y="391" width="2" height="11" fill="#fff"/>
<rect x="511.46" y="391" width="2" height="11" fill="#fff"/>
<rect x="517.35" y="391" width="2" height="11" fill="#fff"/>
<rect x="523.25" y="391" width="2" height="11" fill="#fff"/>
<rect x="529.14" y="391" width="2" height="11" fill="#fff"/>
<rect x="535.04" y="391" width="2" height="11" fill="#fff"/>
<rect x="540.93" y="391" width="2" height="11" fill="#fff"/>
<rect x="546.82" y="391" width="2" height="11" fill="#fff"/>
<rect x="552.72" y="391" width="2" height="11" fill="#fff"/>
<rect x="558.61" y="391" width="2" height="11" fill="#fff"/>
<rect x="564.51" y="391" width="2" height="11" fill="#fff"/>
<rect x="565.91" y="391" width="4.49" height="5.1" fill="#000"/>
<rect x="567.21" y="391.9" width="2.49" height="3.3" fill="#fff"/>
<rect x="647.4" y="386" width="77.8" height="13" fill="#000"/>
<rect x="648.4" y="387" width="75.8" height="1.1" fill="#fff"/>
<rect x="648.4" y="387" width="1.1" height="11" fill="#fff"/>
<rect x="723.1" y="387" width="1.1" height="11" fill="#fff"/>
<rect x="648.4" y="391.7" width="75.8" height="1.4" fill="#fff"/>
<rect x="653.4" y="387" width="2" height="11" fill="#fff"/>
<rect x="659.2" y="387" width="2" height="11" fill="#fff"/>
<rect x="665" y="387" width="2" height="11" fill="#fff"/>
<rect x="670.8" y="387" width="2" height="11" fill="#fff"/>
<rect x="676.6" y="387" width="2" height="11" fill="#fff"/>
<rect x="682.4" y="387" width="2" height="11" fill="#fff"/>
<rect x="688.2" y="387" width="2" height="11" fill="#fff"/>
<rect x="694" y="387" width="2" height="11" fill="#fff"/>
<rect x="699.8" y="387" width="2" height="11" fill="#fff"/>
<rect x="705.6" y="387" width="2" height="11" fill="#fff"/>
<rect x="711.4" y="387" width="2" height="11" fill="#fff"/>
<rect x="717.2" y="387" width="2" height="11" fill="#fff"/>
<rect x="718.6" y="388.1" width="4.4" height="3.6" fill="#000"/>
<rect x="719.9" y="389" width="2.4" height="1.8" fill="#fff"/>
<rect x="766.4" y="357.2" width="30.6" height="12.6" fill="#000"/>
<rect x="767.4" y="358.2" width="28.6" height="1.1" fill="#fff"/>
<rect x="767.4" y="358.2" width="1.1" height="10.6" fill="#fff"/>
<rect x="794.9" y="358.2" width="1.1" height="10.6" fill="#fff"/>
<rect x="767.4" y="362.9" width="28.6" height="1.4" fill="#fff"/>
<rect x="772.24" y="358.2" width="2" height="10.6" fill="#fff"/>
<rect x="777.88" y="358.2" width="2" height="10.6" fill="#fff"/>
<rect x="783.52" y="358.2" width="2" height="10.6" fill="#fff"/>
<rect x="789.16" y="358.2" width="2" height="10.6" fill="#fff"/>
<rect x="790.56" y="359.3" width="4.24" height="3.6" fill="#000"/>
<rect x="791.86" y="360.2" width="2.24" height="1.8" fill="#fff"/>
<rect x="766.4" y="371" width="30.6" height="13" fill="#000"/>
<rect x="767.4" y="372" width="28.6" height="1.1" fill="#fff"/>
<rect x="767.4" y="372" width="1.1" height="11" fill="#fff"/>
<rect x="794.9" y="372" width="1.1" height="11" fill="#fff"/>
<rect x="767.4" y="376.7" width="28.6" height="1.4" fill="#fff"/>
<rect x="772.24" y="372" width="2" height="11" fill="#fff"/>
<rect x="777.88" y="372" width="2" height="11" fill="#fff"/>
<rect x="783.52" y="372" width="2" height="11" fill="#fff"/>
<rect x="789.16" y="372" width="2" height="11" fill="#fff"/>
<rect x="790.56" y="373.1" width="4.24" height="3.6" fill="#000"/>
<rect x="791.86" y="374" width="2.24" height="1.8" fill="#fff"/>
<polygon points="437.3,380.9 439,380.6 442.12,379.5 446.1,378.5 449.65,378.1 453.2,378.1 453.2,376.1 449.65,376.1 446.1,375.7 442.12,374.7 439,373.6 437.3,373.3" fill="#000" shape-rendering="geometricPrecision"/>
<rect x="403.2" y="368.1" width="35.9" height="18.6" fill="#000" rx="3.5" shape-rendering="geometricPrecision"/>
<rect x="405.2" y="370.1" width="31.5" height="14.2" fill="#fff" rx="1.7" shape-rendering="geometricPrecision"/>
<polygon points="436.16,379 439,378.7 441.84,377.8 446.1,377.1 446.1,377.1 441.84,376.4 439,375.5 436.16,375.2" fill="#fff" shape-rendering="geometricPrecision"/>
<text transform="scale(0.68,1)" x="599.12 613.27 627.65" y="382" font-size="14.5" fill="#000" stroke="#000" stroke-width="0.25" vector-effect="non-scaling-stroke">CN4</text>
<polygon points="587.56,393 586,393.3 583.14,394.4 579.5,395.4 576.25,395.8 573,395.8 573,397.8 576.25,397.8 579.5,398.2 583.14,399.2 586,400.3 587.56,400.6" fill="#000" shape-rendering="geometricPrecision"/>
<rect x="585.9" y="388.2" width="36.3" height="17.7" fill="#000" rx="3.5" shape-rendering="geometricPrecision"/>
<rect x="587.9" y="390.2" width="31.9" height="13.3" fill="#fff" rx="1.7" shape-rendering="geometricPrecision"/>
<polygon points="588.6,394.9 586,395.2 583.4,396.1 579.5,396.8 579.5,396.8 583.4,397.5 586,398.4 588.6,398.7" fill="#fff" shape-rendering="geometricPrecision"/>
<text transform="scale(0.68,1)" x="869.56 884.37 899.16" y="401" font-size="14.5" fill="#000" stroke="#000" stroke-width="0.25" vector-effect="non-scaling-stroke">CN5</text>
<polygon points="710.05,371.5 708.2,371.8 704.81,372.9 700.5,373.9 696.65,374.3 692.8,374.3 692.8,376.3 696.65,376.3 700.5,376.7 704.81,377.7 708.2,378.8 710.05,379.1" fill="#000" shape-rendering="geometricPrecision"/>
<rect x="708.1" y="366.8" width="35.9" height="18.2" fill="#000" rx="3.5" shape-rendering="geometricPrecision"/>
<rect x="710.1" y="368.8" width="31.5" height="13.8" fill="#fff" rx="1.7" shape-rendering="geometricPrecision"/>
<polygon points="711.28,373.4 708.2,373.7 705.12,374.6 700.5,375.3 700.5,375.3 705.12,376 708.2,376.9 711.28,377.2" fill="#fff" shape-rendering="geometricPrecision"/>
<text transform="scale(0.68,1)" x="1047.79 1062.85 1077.72" y="379.7" font-size="14.5" fill="#000" stroke="#000" stroke-width="0.25" vector-effect="non-scaling-stroke">CN6</text>
<polygon points="686.84,416.37 686.5,414.53 685.33,411.17 684.25,406.87 683.77,403.03 683.7,399.18 681.7,399.22 681.78,403.07 681.45,406.93 680.53,411.26 679.5,414.67 679.24,416.52" fill="#000" shape-rendering="geometricPrecision"/>
<rect x="667.3" y="414.5" width="33.5" height="17.8" fill="#000" rx="3.5" shape-rendering="geometricPrecision"/>
<rect x="669.3" y="416.5" width="29.1" height="13.4" fill="#fff" rx="1.7" shape-rendering="geometricPrecision"/>
<polygon points="684.96,417.64 684.6,414.57 683.64,411.51 682.85,406.9 682.85,406.9 682.24,411.53 681.4,414.63 681.16,417.72" fill="#fff" shape-rendering="geometricPrecision"/>
<text transform="scale(0.68,1)" x="984.26 999.3 1014.34" y="428.4" font-size="14.5" fill="#000" stroke="#000" stroke-width="0.25" vector-effect="non-scaling-stroke">CN3</text>
<polygon points="765.95,348.55 768.48,350.52 771.74,352.66 775.91,355.69 778.89,358.11 780.31,356.69 777.89,353.71 774.86,349.54 772.72,346.28 770.75,343.75" fill="#000" shape-rendering="geometricPrecision"/>
<rect x="739.6" y="331.4" width="33.9" height="19.6" fill="#000" rx="3.5" shape-rendering="geometricPrecision"/>
<rect x="741.6" y="334.2" width="29.4" height="14.8" fill="#fff" rx="1.7" shape-rendering="geometricPrecision"/>
<polygon points="767.74,347.66 769.82,349.18 771.91,350.69 775.1,352.9 775.1,352.9 772.89,349.71 771.38,347.62 769.86,345.54" fill="#fff" shape-rendering="geometricPrecision"/>
<text transform="scale(0.68,1)" x="1091.47 1106.42 1121.19" y="346.2" font-size="14.5" fill="#000" stroke="#000" stroke-width="0.25" vector-effect="non-scaling-stroke">CN2</text>
<polygon points="812.99,374.4 811.3,374.7 808.2,375.8 804.25,376.8 800.73,377.2 797.2,377.2 797.2,379.2 800.73,379.2 804.25,379.6 808.2,380.6 811.3,381.7 812.99,382" fill="#000" shape-rendering="geometricPrecision"/>
<rect x="811.2" y="369" width="36.3" height="18.8" fill="#000" rx="3.5" shape-rendering="geometricPrecision"/>
<rect x="813.2" y="371" width="31.9" height="14.4" fill="#fff" rx="1.7" shape-rendering="geometricPrecision"/>
<polygon points="814.12,376.3 811.3,376.6 808.48,377.5 804.25,378.2 804.25,378.2 808.48,378.9 811.3,379.8 814.12,380.1" fill="#fff" shape-rendering="geometricPrecision"/>
<text transform="scale(0.68,1)" x="1200.59 1214.83 1228.53" y="383" font-size="14.5" fill="#000" stroke="#000" stroke-width="0.25" vector-effect="non-scaling-stroke">CN1</text>
<rect x="82" y="343" width="278.4" height="15" fill="#000"/>
<rect x="83.2" y="344.2" width="276.1" height="12.7" fill="#fff"/>
<rect x="83" y="346" width="7" height="1" fill="#000"/>
<rect x="83" y="351" width="7" height="1" fill="#000"/>
<rect x="90" y="344.2" width="4" height="12.8" fill="#000"/>
<rect x="91" y="346" width="1" height="10" fill="#fff"/>
<rect x="91" y="344.3" width="1" height="0.9" fill="#fff"/>
<rect x="94" y="345.2" width="10" height="11.8" fill="#000"/>
<rect x="95" y="346" width="8" height="5.3" fill="#fff"/>
<rect x="97" y="352.2" width="4" height="2" fill="#fff"/>
<rect x="94" y="354" width="7" height="2" fill="#fff"/>
<rect x="352.6" y="346" width="6.8" height="1" fill="#000"/>
<rect x="352.6" y="351" width="6.8" height="1" fill="#000"/>
<rect x="348.6" y="344.2" width="4" height="12.8" fill="#000"/>
<rect x="350.6" y="346" width="1" height="10" fill="#fff"/>
<rect x="350.6" y="344.3" width="1" height="0.9" fill="#fff"/>
<rect x="338.6" y="345.2" width="10" height="11.8" fill="#000"/>
<rect x="339.6" y="346" width="8" height="5.3" fill="#fff"/>
<rect x="341.6" y="352.2" width="4" height="2" fill="#fff"/>
<rect x="341.6" y="354" width="7" height="2" fill="#fff"/>
<rect x="105.2" y="345.2" width="112.4" height="10.6" fill="#000"/>
<rect x="106.6" y="346.6" width="1" height="4.6" fill="#fff"/>
<rect x="109.44" y="346.6" width="1" height="4.6" fill="#fff"/>
<rect x="112.28" y="346.6" width="1" height="4.6" fill="#fff"/>
<rect x="115.12" y="346.6" width="1" height="4.6" fill="#fff"/>
<rect x="117.96" y="346.6" width="1" height="4.6" fill="#fff"/>
<rect x="120.8" y="346.6" width="1" height="4.6" fill="#fff"/>
<rect x="123.64" y="346.6" width="1" height="4.6" fill="#fff"/>
<rect x="126.48" y="346.6" width="1" height="4.6" fill="#fff"/>
<rect x="129.32" y="346.6" width="1" height="4.6" fill="#fff"/>
<rect x="132.16" y="346.6" width="1" height="4.6" fill="#fff"/>
<rect x="135" y="346.6" width="1" height="4.6" fill="#fff"/>
<rect x="137.84" y="346.6" width="1" height="4.6" fill="#fff"/>
<rect x="140.68" y="346.6" width="1" height="4.6" fill="#fff"/>
<rect x="143.52" y="346.6" width="1" height="4.6" fill="#fff"/>
<rect x="146.36" y="346.6" width="1" height="4.6" fill="#fff"/>
<rect x="149.2" y="346.6" width="1" height="4.6" fill="#fff"/>
<rect x="152.04" y="346.6" width="1" height="4.6" fill="#fff"/>
<rect x="154.88" y="346.6" width="1" height="4.6" fill="#fff"/>
<rect x="157.72" y="346.6" width="1" height="4.6" fill="#fff"/>
<rect x="160.56" y="346.6" width="1" height="4.6" fill="#fff"/>
<rect x="163.4" y="346.6" width="1" height="4.6" fill="#fff"/>
<rect x="166.24" y="346.6" width="1" height="4.6" fill="#fff"/>
<rect x="169.08" y="346.6" width="1" height="4.6" fill="#fff"/>
<rect x="171.92" y="346.6" width="1" height="4.6" fill="#fff"/>
<rect x="174.76" y="346.6" width="1" height="4.6" fill="#fff"/>
<rect x="177.6" y="346.6" width="1" height="4.6" fill="#fff"/>
<rect x="180.44" y="346.6" width="1" height="4.6" fill="#fff"/>
<rect x="183.28" y="346.6" width="1" height="4.6" fill="#fff"/>
<rect x="186.12" y="346.6" width="1" height="4.6" fill="#fff"/>
<rect x="188.96" y="346.6" width="1" height="4.6" fill="#fff"/>
<rect x="191.8" y="346.6" width="1" height="4.6" fill="#fff"/>
<rect x="194.64" y="346.6" width="1" height="4.6" fill="#fff"/>
<rect x="197.48" y="346.6" width="1" height="4.6" fill="#fff"/>
<rect x="200.32" y="346.6" width="1" height="4.6" fill="#fff"/>
<rect x="203.16" y="346.6" width="1" height="4.6" fill="#fff"/>
<rect x="206" y="346.6" width="1" height="4.6" fill="#fff"/>
<rect x="208.84" y="346.6" width="1" height="4.6" fill="#fff"/>
<rect x="211.68" y="346.6" width="1" height="4.6" fill="#fff"/>
<rect x="214.52" y="346.6" width="1" height="4.6" fill="#fff"/>
<rect x="225.4" y="345.2" width="111" height="10.6" fill="#000"/>
<rect x="226.8" y="346.6" width="1" height="4.6" fill="#fff"/>
<rect x="229.64" y="346.6" width="1" height="4.6" fill="#fff"/>
<rect x="232.48" y="346.6" width="1" height="4.6" fill="#fff"/>
<rect x="235.32" y="346.6" width="1" height="4.6" fill="#fff"/>
<rect x="238.16" y="346.6" width="1" height="4.6" fill="#fff"/>
<rect x="241" y="346.6" width="1" height="4.6" fill="#fff"/>
<rect x="243.84" y="346.6" width="1" height="4.6" fill="#fff"/>
<rect x="246.68" y="346.6" width="1" height="4.6" fill="#fff"/>
<rect x="249.52" y="346.6" width="1" height="4.6" fill="#fff"/>
<rect x="252.36" y="346.6" width="1" height="4.6" fill="#fff"/>
<rect x="255.2" y="346.6" width="1" height="4.6" fill="#fff"/>
<rect x="258.04" y="346.6" width="1" height="4.6" fill="#fff"/>
<rect x="260.88" y="346.6" width="1" height="4.6" fill="#fff"/>
<rect x="263.72" y="346.6" width="1" height="4.6" fill="#fff"/>
<rect x="266.56" y="346.6" width="1" height="4.6" fill="#fff"/>
<rect x="269.4" y="346.6" width="1" height="4.6" fill="#fff"/>
<rect x="272.24" y="346.6" width="1" height="4.6" fill="#fff"/>
<rect x="275.08" y="346.6" width="1" height="4.6" fill="#fff"/>
<rect x="277.92" y="346.6" width="1" height="4.6" fill="#fff"/>
<rect x="280.76" y="346.6" width="1" height="4.6" fill="#fff"/>
<rect x="283.6" y="346.6" width="1" height="4.6" fill="#fff"/>
<rect x="286.44" y="346.6" width="1" height="4.6" fill="#fff"/>
<rect x="289.28" y="346.6" width="1" height="4.6" fill="#fff"/>
<rect x="292.12" y="346.6" width="1" height="4.6" fill="#fff"/>
<rect x="294.96" y="346.6" width="1" height="4.6" fill="#fff"/>
<rect x="297.8" y="346.6" width="1" height="4.6" fill="#fff"/>
<rect x="300.64" y="346.6" width="1" height="4.6" fill="#fff"/>
<rect x="303.48" y="346.6" width="1" height="4.6" fill="#fff"/>
<rect x="306.32" y="346.6" width="1" height="4.6" fill="#fff"/>
<rect x="309.16" y="346.6" width="1" height="4.6" fill="#fff"/>
<rect x="312" y="346.6" width="1" height="4.6" fill="#fff"/>
<rect x="314.84" y="346.6" width="1" height="4.6" fill="#fff"/>
<rect x="317.68" y="346.6" width="1" height="4.6" fill="#fff"/>
<rect x="320.52" y="346.6" width="1" height="4.6" fill="#fff"/>
<rect x="323.36" y="346.6" width="1" height="4.6" fill="#fff"/>
<rect x="326.2" y="346.6" width="1" height="4.6" fill="#fff"/>
<rect x="329.04" y="346.6" width="1" height="4.6" fill="#fff"/>
<rect x="331.88" y="346.6" width="1" height="4.6" fill="#fff"/>
<rect x="334.72" y="346.6" width="1" height="4.6" fill="#fff"/>
<rect x="97" y="361.2" width="250" height="19.6" fill="#000"/>
<rect x="83.3" y="369.8" width="14.7" height="17.8" fill="#000"/>
<rect x="83.3" y="368.4" width="4.7" height="1.4" fill="#000"/>
<rect x="87" y="387.6" width="11" height="2.8" fill="#000"/>
<rect x="346" y="371" width="14" height="16.8" fill="#000"/>
<rect x="355.2" y="368.2" width="4.8" height="2.8" fill="#000"/>
<rect x="346" y="387.8" width="9.6" height="3" fill="#000"/>
<rect x="105" y="374.8" width="4.3" height="1" fill="#fff"/>
<rect x="105" y="377.1" width="4.3" height="1" fill="#fff"/>
<rect x="105.2" y="379.1" width="1.3" height="0.8" fill="#fff"/>
<rect x="107.4" y="379.1" width="1.3" height="0.8" fill="#fff"/>
<rect x="111.56" y="374.8" width="4.3" height="1" fill="#fff"/>
<rect x="111.56" y="377.1" width="4.3" height="1" fill="#fff"/>
<rect x="111.76" y="379.1" width="1.3" height="0.8" fill="#fff"/>
<rect x="113.96" y="379.1" width="1.3" height="0.8" fill="#fff"/>
<rect x="118.12" y="374.8" width="4.3" height="1" fill="#fff"/>
<rect x="118.12" y="377.1" width="4.3" height="1" fill="#fff"/>
<rect x="118.32" y="379.1" width="1.3" height="0.8" fill="#fff"/>
<rect x="120.52" y="379.1" width="1.3" height="0.8" fill="#fff"/>
<rect x="124.68" y="374.8" width="4.3" height="1" fill="#fff"/>
<rect x="124.68" y="377.1" width="4.3" height="1" fill="#fff"/>
<rect x="124.88" y="379.1" width="1.3" height="0.8" fill="#fff"/>
<rect x="127.08" y="379.1" width="1.3" height="0.8" fill="#fff"/>
<rect x="131.24" y="374.8" width="4.3" height="1" fill="#fff"/>
<rect x="131.24" y="377.1" width="4.3" height="1" fill="#fff"/>
<rect x="131.44" y="379.1" width="1.3" height="0.8" fill="#fff"/>
<rect x="133.64" y="379.1" width="1.3" height="0.8" fill="#fff"/>
<rect x="137.8" y="374.8" width="4.3" height="1" fill="#fff"/>
<rect x="137.8" y="377.1" width="4.3" height="1" fill="#fff"/>
<rect x="138" y="379.1" width="1.3" height="0.8" fill="#fff"/>
<rect x="140.2" y="379.1" width="1.3" height="0.8" fill="#fff"/>
<rect x="144.36" y="374.8" width="4.3" height="1" fill="#fff"/>
<rect x="144.36" y="377.1" width="4.3" height="1" fill="#fff"/>
<rect x="144.56" y="379.1" width="1.3" height="0.8" fill="#fff"/>
<rect x="146.76" y="379.1" width="1.3" height="0.8" fill="#fff"/>
<rect x="150.92" y="374.8" width="4.3" height="1" fill="#fff"/>
<rect x="150.92" y="377.1" width="4.3" height="1" fill="#fff"/>
<rect x="151.12" y="379.1" width="1.3" height="0.8" fill="#fff"/>
<rect x="153.32" y="379.1" width="1.3" height="0.8" fill="#fff"/>
<rect x="157.48" y="374.8" width="4.3" height="1" fill="#fff"/>
<rect x="157.48" y="377.1" width="4.3" height="1" fill="#fff"/>
<rect x="157.68" y="379.1" width="1.3" height="0.8" fill="#fff"/>
<rect x="159.88" y="379.1" width="1.3" height="0.8" fill="#fff"/>
<rect x="164.04" y="374.8" width="4.3" height="1" fill="#fff"/>
<rect x="164.04" y="377.1" width="4.3" height="1" fill="#fff"/>
<rect x="164.24" y="379.1" width="1.3" height="0.8" fill="#fff"/>
<rect x="166.44" y="379.1" width="1.3" height="0.8" fill="#fff"/>
<rect x="170.6" y="374.8" width="4.3" height="1" fill="#fff"/>
<rect x="170.6" y="377.1" width="4.3" height="1" fill="#fff"/>
<rect x="170.8" y="379.1" width="1.3" height="0.8" fill="#fff"/>
<rect x="173" y="379.1" width="1.3" height="0.8" fill="#fff"/>
<rect x="177.16" y="374.8" width="4.3" height="1" fill="#fff"/>
<rect x="177.16" y="377.1" width="4.3" height="1" fill="#fff"/>
<rect x="177.36" y="379.1" width="1.3" height="0.8" fill="#fff"/>
<rect x="179.56" y="379.1" width="1.3" height="0.8" fill="#fff"/>
<rect x="183.72" y="374.8" width="4.3" height="1" fill="#fff"/>
<rect x="183.72" y="377.1" width="4.3" height="1" fill="#fff"/>
<rect x="183.92" y="379.1" width="1.3" height="0.8" fill="#fff"/>
<rect x="186.12" y="379.1" width="1.3" height="0.8" fill="#fff"/>
<rect x="190.28" y="374.8" width="4.3" height="1" fill="#fff"/>
<rect x="190.28" y="377.1" width="4.3" height="1" fill="#fff"/>
<rect x="190.48" y="379.1" width="1.3" height="0.8" fill="#fff"/>
<rect x="192.68" y="379.1" width="1.3" height="0.8" fill="#fff"/>
<rect x="196.84" y="374.8" width="4.3" height="1" fill="#fff"/>
<rect x="196.84" y="377.1" width="4.3" height="1" fill="#fff"/>
<rect x="197.04" y="379.1" width="1.3" height="0.8" fill="#fff"/>
<rect x="199.24" y="379.1" width="1.3" height="0.8" fill="#fff"/>
<rect x="203.4" y="374.8" width="4.3" height="1" fill="#fff"/>
<rect x="203.4" y="377.1" width="4.3" height="1" fill="#fff"/>
<rect x="203.6" y="379.1" width="1.3" height="0.8" fill="#fff"/>
<rect x="205.8" y="379.1" width="1.3" height="0.8" fill="#fff"/>
<rect x="209.96" y="374.8" width="4.3" height="1" fill="#fff"/>
<rect x="209.96" y="377.1" width="4.3" height="1" fill="#fff"/>
<rect x="210.16" y="379.1" width="1.3" height="0.8" fill="#fff"/>
<rect x="212.36" y="379.1" width="1.3" height="0.8" fill="#fff"/>
<rect x="216.52" y="374.8" width="4.3" height="1" fill="#fff"/>
<rect x="216.52" y="377.1" width="4.3" height="1" fill="#fff"/>
<rect x="216.72" y="379.1" width="1.3" height="0.8" fill="#fff"/>
<rect x="218.92" y="379.1" width="1.3" height="0.8" fill="#fff"/>
<rect x="223.08" y="374.8" width="4.3" height="1" fill="#fff"/>
<rect x="223.08" y="377.1" width="4.3" height="1" fill="#fff"/>
<rect x="223.28" y="379.1" width="1.3" height="0.8" fill="#fff"/>
<rect x="225.48" y="379.1" width="1.3" height="0.8" fill="#fff"/>
<rect x="229.64" y="374.8" width="4.3" height="1" fill="#fff"/>
<rect x="229.64" y="377.1" width="4.3" height="1" fill="#fff"/>
<rect x="229.84" y="379.1" width="1.3" height="0.8" fill="#fff"/>
<rect x="232.04" y="379.1" width="1.3" height="0.8" fill="#fff"/>
<rect x="236.2" y="374.8" width="4.3" height="1" fill="#fff"/>
<rect x="236.2" y="377.1" width="4.3" height="1" fill="#fff"/>
<rect x="236.4" y="379.1" width="1.3" height="0.8" fill="#fff"/>
<rect x="238.6" y="379.1" width="1.3" height="0.8" fill="#fff"/>
<rect x="242.76" y="374.8" width="4.3" height="1" fill="#fff"/>
<rect x="242.76" y="377.1" width="4.3" height="1" fill="#fff"/>
<rect x="242.96" y="379.1" width="1.3" height="0.8" fill="#fff"/>
<rect x="245.16" y="379.1" width="1.3" height="0.8" fill="#fff"/>
<rect x="249.32" y="374.8" width="4.3" height="1" fill="#fff"/>
<rect x="249.32" y="377.1" width="4.3" height="1" fill="#fff"/>
<rect x="249.52" y="379.1" width="1.3" height="0.8" fill="#fff"/>
<rect x="251.72" y="379.1" width="1.3" height="0.8" fill="#fff"/>
<rect x="255.88" y="374.8" width="4.3" height="1" fill="#fff"/>
<rect x="255.88" y="377.1" width="4.3" height="1" fill="#fff"/>
<rect x="256.08" y="379.1" width="1.3" height="0.8" fill="#fff"/>
<rect x="258.28" y="379.1" width="1.3" height="0.8" fill="#fff"/>
<rect x="262.44" y="374.8" width="4.3" height="1" fill="#fff"/>
<rect x="262.44" y="377.1" width="4.3" height="1" fill="#fff"/>
<rect x="262.64" y="379.1" width="1.3" height="0.8" fill="#fff"/>
<rect x="264.84" y="379.1" width="1.3" height="0.8" fill="#fff"/>
<rect x="269" y="374.8" width="4.3" height="1" fill="#fff"/>
<rect x="269" y="377.1" width="4.3" height="1" fill="#fff"/>
<rect x="269.2" y="379.1" width="1.3" height="0.8" fill="#fff"/>
<rect x="271.4" y="379.1" width="1.3" height="0.8" fill="#fff"/>
<rect x="275.56" y="374.8" width="4.3" height="1" fill="#fff"/>
<rect x="275.56" y="377.1" width="4.3" height="1" fill="#fff"/>
<rect x="275.76" y="379.1" width="1.3" height="0.8" fill="#fff"/>
<rect x="277.96" y="379.1" width="1.3" height="0.8" fill="#fff"/>
<rect x="282.12" y="374.8" width="4.3" height="1" fill="#fff"/>
<rect x="282.12" y="377.1" width="4.3" height="1" fill="#fff"/>
<rect x="282.32" y="379.1" width="1.3" height="0.8" fill="#fff"/>
<rect x="284.52" y="379.1" width="1.3" height="0.8" fill="#fff"/>
<rect x="288.68" y="374.8" width="4.3" height="1" fill="#fff"/>
<rect x="288.68" y="377.1" width="4.3" height="1" fill="#fff"/>
<rect x="288.88" y="379.1" width="1.3" height="0.8" fill="#fff"/>
<rect x="291.08" y="379.1" width="1.3" height="0.8" fill="#fff"/>
<rect x="295.24" y="374.8" width="4.3" height="1" fill="#fff"/>
<rect x="295.24" y="377.1" width="4.3" height="1" fill="#fff"/>
<rect x="295.44" y="379.1" width="1.3" height="0.8" fill="#fff"/>
<rect x="297.64" y="379.1" width="1.3" height="0.8" fill="#fff"/>
<rect x="301.8" y="374.8" width="4.3" height="1" fill="#fff"/>
<rect x="301.8" y="377.1" width="4.3" height="1" fill="#fff"/>
<rect x="302" y="379.1" width="1.3" height="0.8" fill="#fff"/>
<rect x="304.2" y="379.1" width="1.3" height="0.8" fill="#fff"/>
<rect x="308.36" y="374.8" width="4.3" height="1" fill="#fff"/>
<rect x="308.36" y="377.1" width="4.3" height="1" fill="#fff"/>
<rect x="308.56" y="379.1" width="1.3" height="0.8" fill="#fff"/>
<rect x="310.76" y="379.1" width="1.3" height="0.8" fill="#fff"/>
<rect x="314.92" y="374.8" width="4.3" height="1" fill="#fff"/>
<rect x="314.92" y="377.1" width="4.3" height="1" fill="#fff"/>
<rect x="315.12" y="379.1" width="1.3" height="0.8" fill="#fff"/>
<rect x="317.32" y="379.1" width="1.3" height="0.8" fill="#fff"/>
<rect x="321.48" y="374.8" width="4.3" height="1" fill="#fff"/>
<rect x="321.48" y="377.1" width="4.3" height="1" fill="#fff"/>
<rect x="321.68" y="379.1" width="1.3" height="0.8" fill="#fff"/>
<rect x="323.88" y="379.1" width="1.3" height="0.8" fill="#fff"/>
<rect x="328.04" y="374.8" width="4.3" height="1" fill="#fff"/>
<rect x="328.04" y="377.1" width="4.3" height="1" fill="#fff"/>
<rect x="328.24" y="379.1" width="1.3" height="0.8" fill="#fff"/>
<rect x="330.44" y="379.1" width="1.3" height="0.8" fill="#fff"/>
<rect x="334.6" y="374.8" width="4.3" height="1" fill="#fff"/>
<rect x="334.6" y="377.1" width="4.3" height="1" fill="#fff"/>
<rect x="334.8" y="379.1" width="1.3" height="0.8" fill="#fff"/>
<rect x="337" y="379.1" width="1.3" height="0.8" fill="#fff"/>
<rect x="97" y="399" width="250" height="19.6" fill="#000"/>
<rect x="83.3" y="407.6" width="14.7" height="17.8" fill="#000"/>
<rect x="83.3" y="406.2" width="4.7" height="1.4" fill="#000"/>
<rect x="87" y="425.4" width="11" height="2.8" fill="#000"/>
<rect x="346" y="408.8" width="14" height="16.8" fill="#000"/>
<rect x="355.2" y="406" width="4.8" height="2.8" fill="#000"/>
<rect x="346" y="425.6" width="9.6" height="3" fill="#000"/>
<rect x="105" y="412.5" width="4.3" height="1" fill="#fff"/>
<rect x="105" y="414.8" width="4.3" height="1" fill="#fff"/>
<rect x="105.2" y="416.8" width="1.3" height="0.8" fill="#fff"/>
<rect x="107.4" y="416.8" width="1.3" height="0.8" fill="#fff"/>
<rect x="111.56" y="412.5" width="4.3" height="1" fill="#fff"/>
<rect x="111.56" y="414.8" width="4.3" height="1" fill="#fff"/>
<rect x="111.76" y="416.8" width="1.3" height="0.8" fill="#fff"/>
<rect x="113.96" y="416.8" width="1.3" height="0.8" fill="#fff"/>
<rect x="118.12" y="412.5" width="4.3" height="1" fill="#fff"/>
<rect x="118.12" y="414.8" width="4.3" height="1" fill="#fff"/>
<rect x="118.32" y="416.8" width="1.3" height="0.8" fill="#fff"/>
<rect x="120.52" y="416.8" width="1.3" height="0.8" fill="#fff"/>
<rect x="124.68" y="412.5" width="4.3" height="1" fill="#fff"/>
<rect x="124.68" y="414.8" width="4.3" height="1" fill="#fff"/>
<rect x="124.88" y="416.8" width="1.3" height="0.8" fill="#fff"/>
<rect x="127.08" y="416.8" width="1.3" height="0.8" fill="#fff"/>
<rect x="131.24" y="412.5" width="4.3" height="1" fill="#fff"/>
<rect x="131.24" y="414.8" width="4.3" height="1" fill="#fff"/>
<rect x="131.44" y="416.8" width="1.3" height="0.8" fill="#fff"/>
<rect x="133.64" y="416.8" width="1.3" height="0.8" fill="#fff"/>
<rect x="137.8" y="412.5" width="4.3" height="1" fill="#fff"/>
<rect x="137.8" y="414.8" width="4.3" height="1" fill="#fff"/>
<rect x="138" y="416.8" width="1.3" height="0.8" fill="#fff"/>
<rect x="140.2" y="416.8" width="1.3" height="0.8" fill="#fff"/>
<rect x="144.36" y="412.5" width="4.3" height="1" fill="#fff"/>
<rect x="144.36" y="414.8" width="4.3" height="1" fill="#fff"/>
<rect x="144.56" y="416.8" width="1.3" height="0.8" fill="#fff"/>
<rect x="146.76" y="416.8" width="1.3" height="0.8" fill="#fff"/>
<rect x="150.92" y="412.5" width="4.3" height="1" fill="#fff"/>
<rect x="150.92" y="414.8" width="4.3" height="1" fill="#fff"/>
<rect x="151.12" y="416.8" width="1.3" height="0.8" fill="#fff"/>
<rect x="153.32" y="416.8" width="1.3" height="0.8" fill="#fff"/>
<rect x="157.48" y="412.5" width="4.3" height="1" fill="#fff"/>
<rect x="157.48" y="414.8" width="4.3" height="1" fill="#fff"/>
<rect x="157.68" y="416.8" width="1.3" height="0.8" fill="#fff"/>
<rect x="159.88" y="416.8" width="1.3" height="0.8" fill="#fff"/>
<rect x="164.04" y="412.5" width="4.3" height="1" fill="#fff"/>
<rect x="164.04" y="414.8" width="4.3" height="1" fill="#fff"/>
<rect x="164.24" y="416.8" width="1.3" height="0.8" fill="#fff"/>
<rect x="166.44" y="416.8" width="1.3" height="0.8" fill="#fff"/>
<rect x="170.6" y="412.5" width="4.3" height="1" fill="#fff"/>
<rect x="170.6" y="414.8" width="4.3" height="1" fill="#fff"/>
<rect x="170.8" y="416.8" width="1.3" height="0.8" fill="#fff"/>
<rect x="173" y="416.8" width="1.3" height="0.8" fill="#fff"/>
<rect x="177.16" y="412.5" width="4.3" height="1" fill="#fff"/>
<rect x="177.16" y="414.8" width="4.3" height="1" fill="#fff"/>
<rect x="177.36" y="416.8" width="1.3" height="0.8" fill="#fff"/>
<rect x="179.56" y="416.8" width="1.3" height="0.8" fill="#fff"/>
<rect x="183.72" y="412.5" width="4.3" height="1" fill="#fff"/>
<rect x="183.72" y="414.8" width="4.3" height="1" fill="#fff"/>
<rect x="183.92" y="416.8" width="1.3" height="0.8" fill="#fff"/>
<rect x="186.12" y="416.8" width="1.3" height="0.8" fill="#fff"/>
<rect x="190.28" y="412.5" width="4.3" height="1" fill="#fff"/>
<rect x="190.28" y="414.8" width="4.3" height="1" fill="#fff"/>
<rect x="190.48" y="416.8" width="1.3" height="0.8" fill="#fff"/>
<rect x="192.68" y="416.8" width="1.3" height="0.8" fill="#fff"/>
<rect x="196.84" y="412.5" width="4.3" height="1" fill="#fff"/>
<rect x="196.84" y="414.8" width="4.3" height="1" fill="#fff"/>
<rect x="197.04" y="416.8" width="1.3" height="0.8" fill="#fff"/>
<rect x="199.24" y="416.8" width="1.3" height="0.8" fill="#fff"/>
<rect x="203.4" y="412.5" width="4.3" height="1" fill="#fff"/>
<rect x="203.4" y="414.8" width="4.3" height="1" fill="#fff"/>
<rect x="203.6" y="416.8" width="1.3" height="0.8" fill="#fff"/>
<rect x="205.8" y="416.8" width="1.3" height="0.8" fill="#fff"/>
<rect x="209.96" y="412.5" width="4.3" height="1" fill="#fff"/>
<rect x="209.96" y="414.8" width="4.3" height="1" fill="#fff"/>
<rect x="210.16" y="416.8" width="1.3" height="0.8" fill="#fff"/>
<rect x="212.36" y="416.8" width="1.3" height="0.8" fill="#fff"/>
<rect x="216.52" y="412.5" width="4.3" height="1" fill="#fff"/>
<rect x="216.52" y="414.8" width="4.3" height="1" fill="#fff"/>
<rect x="216.72" y="416.8" width="1.3" height="0.8" fill="#fff"/>
<rect x="218.92" y="416.8" width="1.3" height="0.8" fill="#fff"/>
<rect x="223.08" y="412.5" width="4.3" height="1" fill="#fff"/>
<rect x="223.08" y="414.8" width="4.3" height="1" fill="#fff"/>
<rect x="223.28" y="416.8" width="1.3" height="0.8" fill="#fff"/>
<rect x="225.48" y="416.8" width="1.3" height="0.8" fill="#fff"/>
<rect x="229.64" y="412.5" width="4.3" height="1" fill="#fff"/>
<rect x="229.64" y="414.8" width="4.3" height="1" fill="#fff"/>
<rect x="229.84" y="416.8" width="1.3" height="0.8" fill="#fff"/>
<rect x="232.04" y="416.8" width="1.3" height="0.8" fill="#fff"/>
<rect x="236.2" y="412.5" width="4.3" height="1" fill="#fff"/>
<rect x="236.2" y="414.8" width="4.3" height="1" fill="#fff"/>
<rect x="236.4" y="416.8" width="1.3" height="0.8" fill="#fff"/>
<rect x="238.6" y="416.8" width="1.3" height="0.8" fill="#fff"/>
<rect x="242.76" y="412.5" width="4.3" height="1" fill="#fff"/>
<rect x="242.76" y="414.8" width="4.3" height="1" fill="#fff"/>
<rect x="242.96" y="416.8" width="1.3" height="0.8" fill="#fff"/>
<rect x="245.16" y="416.8" width="1.3" height="0.8" fill="#fff"/>
<rect x="249.32" y="412.5" width="4.3" height="1" fill="#fff"/>
<rect x="249.32" y="414.8" width="4.3" height="1" fill="#fff"/>
<rect x="249.52" y="416.8" width="1.3" height="0.8" fill="#fff"/>
<rect x="251.72" y="416.8" width="1.3" height="0.8" fill="#fff"/>
<rect x="255.88" y="412.5" width="4.3" height="1" fill="#fff"/>
<rect x="255.88" y="414.8" width="4.3" height="1" fill="#fff"/>
<rect x="256.08" y="416.8" width="1.3" height="0.8" fill="#fff"/>
<rect x="258.28" y="416.8" width="1.3" height="0.8" fill="#fff"/>
<rect x="262.44" y="412.5" width="4.3" height="1" fill="#fff"/>
<rect x="262.44" y="414.8" width="4.3" height="1" fill="#fff"/>
<rect x="262.64" y="416.8" width="1.3" height="0.8" fill="#fff"/>
<rect x="264.84" y="416.8" width="1.3" height="0.8" fill="#fff"/>
<rect x="269" y="412.5" width="4.3" height="1" fill="#fff"/>
<rect x="269" y="414.8" width="4.3" height="1" fill="#fff"/>
<rect x="269.2" y="416.8" width="1.3" height="0.8" fill="#fff"/>
<rect x="271.4" y="416.8" width="1.3" height="0.8" fill="#fff"/>
<rect x="275.56" y="412.5" width="4.3" height="1" fill="#fff"/>
<rect x="275.56" y="414.8" width="4.3" height="1" fill="#fff"/>
<rect x="275.76" y="416.8" width="1.3" height="0.8" fill="#fff"/>
<rect x="277.96" y="416.8" width="1.3" height="0.8" fill="#fff"/>
<rect x="282.12" y="412.5" width="4.3" height="1" fill="#fff"/>
<rect x="282.12" y="414.8" width="4.3" height="1" fill="#fff"/>
<rect x="282.32" y="416.8" width="1.3" height="0.8" fill="#fff"/>
<rect x="284.52" y="416.8" width="1.3" height="0.8" fill="#fff"/>
<rect x="288.68" y="412.5" width="4.3" height="1" fill="#fff"/>
<rect x="288.68" y="414.8" width="4.3" height="1" fill="#fff"/>
<rect x="288.88" y="416.8" width="1.3" height="0.8" fill="#fff"/>
<rect x="291.08" y="416.8" width="1.3" height="0.8" fill="#fff"/>
<rect x="295.24" y="412.5" width="4.3" height="1" fill="#fff"/>
<rect x="295.24" y="414.8" width="4.3" height="1" fill="#fff"/>
<rect x="295.44" y="416.8" width="1.3" height="0.8" fill="#fff"/>
<rect x="297.64" y="416.8" width="1.3" height="0.8" fill="#fff"/>
<rect x="301.8" y="412.5" width="4.3" height="1" fill="#fff"/>
<rect x="301.8" y="414.8" width="4.3" height="1" fill="#fff"/>
<rect x="302" y="416.8" width="1.3" height="0.8" fill="#fff"/>
<rect x="304.2" y="416.8" width="1.3" height="0.8" fill="#fff"/>
<rect x="308.36" y="412.5" width="4.3" height="1" fill="#fff"/>
<rect x="308.36" y="414.8" width="4.3" height="1" fill="#fff"/>
<rect x="308.56" y="416.8" width="1.3" height="0.8" fill="#fff"/>
<rect x="310.76" y="416.8" width="1.3" height="0.8" fill="#fff"/>
<rect x="314.92" y="412.5" width="4.3" height="1" fill="#fff"/>
<rect x="314.92" y="414.8" width="4.3" height="1" fill="#fff"/>
<rect x="315.12" y="416.8" width="1.3" height="0.8" fill="#fff"/>
<rect x="317.32" y="416.8" width="1.3" height="0.8" fill="#fff"/>
<rect x="321.48" y="412.5" width="4.3" height="1" fill="#fff"/>
<rect x="321.48" y="414.8" width="4.3" height="1" fill="#fff"/>
<rect x="321.68" y="416.8" width="1.3" height="0.8" fill="#fff"/>
<rect x="323.88" y="416.8" width="1.3" height="0.8" fill="#fff"/>
<rect x="328.04" y="412.5" width="4.3" height="1" fill="#fff"/>
<rect x="328.04" y="414.8" width="4.3" height="1" fill="#fff"/>
<rect x="328.24" y="416.8" width="1.3" height="0.8" fill="#fff"/>
<rect x="330.44" y="416.8" width="1.3" height="0.8" fill="#fff"/>
<rect x="334.6" y="412.5" width="4.3" height="1" fill="#fff"/>
<rect x="334.6" y="414.8" width="4.3" height="1" fill="#fff"/>
<rect x="334.8" y="416.8" width="1.3" height="0.8" fill="#fff"/>
<rect x="337" y="416.8" width="1.3" height="0.8" fill="#fff"/>
<rect x="97" y="435" width="250" height="19.6" fill="#000"/>
<rect x="83.3" y="443.6" width="14.7" height="17.8" fill="#000"/>
<rect x="83.3" y="442.2" width="4.7" height="1.4" fill="#000"/>
<rect x="87" y="461.4" width="11" height="2.8" fill="#000"/>
<rect x="346" y="444.8" width="14" height="16.8" fill="#000"/>
<rect x="355.2" y="442" width="4.8" height="2.8" fill="#000"/>
<rect x="346" y="461.6" width="9.6" height="3" fill="#000"/>
<rect x="105" y="449" width="4.3" height="1" fill="#fff"/>
<rect x="105" y="452" width="1.7" height="2" fill="#fff"/>
<rect x="107.5" y="452" width="1.7" height="2" fill="#fff"/>
<rect x="111.56" y="449" width="4.3" height="1" fill="#fff"/>
<rect x="111.56" y="452" width="1.7" height="2" fill="#fff"/>
<rect x="114.06" y="452" width="1.7" height="2" fill="#fff"/>
<rect x="118.12" y="449" width="4.3" height="1" fill="#fff"/>
<rect x="118.12" y="452" width="1.7" height="2" fill="#fff"/>
<rect x="120.62" y="452" width="1.7" height="2" fill="#fff"/>
<rect x="124.68" y="449" width="4.3" height="1" fill="#fff"/>
<rect x="124.68" y="452" width="1.7" height="2" fill="#fff"/>
<rect x="127.18" y="452" width="1.7" height="2" fill="#fff"/>
<rect x="131.24" y="449" width="4.3" height="1" fill="#fff"/>
<rect x="131.24" y="452" width="1.7" height="2" fill="#fff"/>
<rect x="133.74" y="452" width="1.7" height="2" fill="#fff"/>
<rect x="137.8" y="449" width="4.3" height="1" fill="#fff"/>
<rect x="137.8" y="452" width="1.7" height="2" fill="#fff"/>
<rect x="140.3" y="452" width="1.7" height="2" fill="#fff"/>
<rect x="144.36" y="449" width="4.3" height="1" fill="#fff"/>
<rect x="144.36" y="452" width="1.7" height="2" fill="#fff"/>
<rect x="146.86" y="452" width="1.7" height="2" fill="#fff"/>
<rect x="150.92" y="449" width="4.3" height="1" fill="#fff"/>
<rect x="150.92" y="452" width="1.7" height="2" fill="#fff"/>
<rect x="153.42" y="452" width="1.7" height="2" fill="#fff"/>
<rect x="157.48" y="449" width="4.3" height="1" fill="#fff"/>
<rect x="157.48" y="452" width="1.7" height="2" fill="#fff"/>
<rect x="159.98" y="452" width="1.7" height="2" fill="#fff"/>
<rect x="164.04" y="449" width="4.3" height="1" fill="#fff"/>
<rect x="164.04" y="452" width="1.7" height="2" fill="#fff"/>
<rect x="166.54" y="452" width="1.7" height="2" fill="#fff"/>
<rect x="170.6" y="449" width="4.3" height="1" fill="#fff"/>
<rect x="170.6" y="452" width="1.7" height="2" fill="#fff"/>
<rect x="173.1" y="452" width="1.7" height="2" fill="#fff"/>
<rect x="177.16" y="449" width="4.3" height="1" fill="#fff"/>
<rect x="177.16" y="452" width="1.7" height="2" fill="#fff"/>
<rect x="179.66" y="452" width="1.7" height="2" fill="#fff"/>
<rect x="183.72" y="449" width="4.3" height="1" fill="#fff"/>
<rect x="183.72" y="452" width="1.7" height="2" fill="#fff"/>
<rect x="186.22" y="452" width="1.7" height="2" fill="#fff"/>
<rect x="190.28" y="449" width="4.3" height="1" fill="#fff"/>
<rect x="190.28" y="452" width="1.7" height="2" fill="#fff"/>
<rect x="192.78" y="452" width="1.7" height="2" fill="#fff"/>
<rect x="196.84" y="449" width="4.3" height="1" fill="#fff"/>
<rect x="196.84" y="452" width="1.7" height="2" fill="#fff"/>
<rect x="199.34" y="452" width="1.7" height="2" fill="#fff"/>
<rect x="203.4" y="449" width="4.3" height="1" fill="#fff"/>
<rect x="203.4" y="452" width="1.7" height="2" fill="#fff"/>
<rect x="205.9" y="452" width="1.7" height="2" fill="#fff"/>
<rect x="209.96" y="449" width="4.3" height="1" fill="#fff"/>
<rect x="209.96" y="452" width="1.7" height="2" fill="#fff"/>
<rect x="212.46" y="452" width="1.7" height="2" fill="#fff"/>
<rect x="216.52" y="449" width="4.3" height="1" fill="#fff"/>
<rect x="216.52" y="452" width="1.7" height="2" fill="#fff"/>
<rect x="219.02" y="452" width="1.7" height="2" fill="#fff"/>
<rect x="223.08" y="449" width="4.3" height="1" fill="#fff"/>
<rect x="223.08" y="452" width="1.7" height="2" fill="#fff"/>
<rect x="225.58" y="452" width="1.7" height="2" fill="#fff"/>
<rect x="229.64" y="449" width="4.3" height="1" fill="#fff"/>
<rect x="229.64" y="452" width="1.7" height="2" fill="#fff"/>
<rect x="232.14" y="452" width="1.7" height="2" fill="#fff"/>
<rect x="236.2" y="449" width="4.3" height="1" fill="#fff"/>
<rect x="236.2" y="452" width="1.7" height="2" fill="#fff"/>
<rect x="238.7" y="452" width="1.7" height="2" fill="#fff"/>
<rect x="242.76" y="449" width="4.3" height="1" fill="#fff"/>
<rect x="242.76" y="452" width="1.7" height="2" fill="#fff"/>
<rect x="245.26" y="452" width="1.7" height="2" fill="#fff"/>
<rect x="249.32" y="449" width="4.3" height="1" fill="#fff"/>
<rect x="249.32" y="452" width="1.7" height="2" fill="#fff"/>
<rect x="251.82" y="452" width="1.7" height="2" fill="#fff"/>
<rect x="255.88" y="449" width="4.3" height="1" fill="#fff"/>
<rect x="255.88" y="452" width="1.7" height="2" fill="#fff"/>
<rect x="258.38" y="452" width="1.7" height="2" fill="#fff"/>
<rect x="262.44" y="449" width="4.3" height="1" fill="#fff"/>
<rect x="262.44" y="452" width="1.7" height="2" fill="#fff"/>
<rect x="264.94" y="452" width="1.7" height="2" fill="#fff"/>
<rect x="269" y="449" width="4.3" height="1" fill="#fff"/>
<rect x="269" y="452" width="1.7" height="2" fill="#fff"/>
<rect x="271.5" y="452" width="1.7" height="2" fill="#fff"/>
<rect x="275.56" y="449" width="4.3" height="1" fill="#fff"/>
<rect x="275.56" y="452" width="1.7" height="2" fill="#fff"/>
<rect x="278.06" y="452" width="1.7" height="2" fill="#fff"/>
<rect x="282.12" y="449" width="4.3" height="1" fill="#fff"/>
<rect x="282.12" y="452" width="1.7" height="2" fill="#fff"/>
<rect x="284.62" y="452" width="1.7" height="2" fill="#fff"/>
<rect x="288.68" y="449" width="4.3" height="1" fill="#fff"/>
<rect x="288.68" y="452" width="1.7" height="2" fill="#fff"/>
<rect x="291.18" y="452" width="1.7" height="2" fill="#fff"/>
<rect x="295.24" y="449" width="4.3" height="1" fill="#fff"/>
<rect x="295.24" y="452" width="1.7" height="2" fill="#fff"/>
<rect x="297.74" y="452" width="1.7" height="2" fill="#fff"/>
<rect x="301.8" y="449" width="4.3" height="1" fill="#fff"/>
<rect x="301.8" y="452" width="1.7" height="2" fill="#fff"/>
<rect x="304.3" y="452" width="1.7" height="2" fill="#fff"/>
<rect x="308.36" y="449" width="4.3" height="1" fill="#fff"/>
<rect x="308.36" y="452" width="1.7" height="2" fill="#fff"/>
<rect x="310.86" y="452" width="1.7" height="2" fill="#fff"/>
<rect x="314.92" y="449" width="4.3" height="1" fill="#fff"/>
<rect x="314.92" y="452" width="1.7" height="2" fill="#fff"/>
<rect x="317.42" y="452" width="1.7" height="2" fill="#fff"/>
<rect x="321.48" y="449" width="4.3" height="1" fill="#fff"/>
<rect x="321.48" y="452" width="1.7" height="2" fill="#fff"/>
<rect x="323.98" y="452" width="1.7" height="2" fill="#fff"/>
<rect x="328.04" y="449" width="4.3" height="1" fill="#fff"/>
<rect x="328.04" y="452" width="1.7" height="2" fill="#fff"/>
<rect x="330.54" y="452" width="1.7" height="2" fill="#fff"/>
<rect x="334.6" y="449" width="4.3" height="1" fill="#fff"/>
<rect x="334.6" y="452" width="1.7" height="2" fill="#fff"/>
<rect x="337.1" y="452" width="1.7" height="2" fill="#fff"/>
<rect x="191.6" y="357.4" width="59.4" height="18" fill="#000" rx="2.5" shape-rendering="geometricPrecision"/>
<rect x="194" y="359" width="55.2" height="14.9" fill="#fff" rx="1.5" shape-rendering="geometricPrecision"/>
<text transform="scale(0.68,1)" x="289.99 304.22 318.03 331.48 340.99 352.21" y="372" font-size="14.5" fill="#000" stroke="#000" stroke-width="0.25" vector-effect="non-scaling-stroke">BANK 0</text>
<rect x="192" y="422" width="60" height="18" fill="#000" rx="2" shape-rendering="geometricPrecision"/>
<rect x="194" y="423.9" width="55.3" height="14.1" fill="#fff"/>
<text transform="scale(0.68,1)" x="291.46 305.54 319.2 332.5 342.01 352.35" y="437" font-size="14.5" fill="#000" stroke="#000" stroke-width="0.25" vector-effect="non-scaling-stroke">BANK 1</text>
<rect x="43.2" y="317" width="6.8" height="25.7" fill="#000"/>
<rect x="44.2" y="324" width="4.7" height="1.3" fill="#fff"/>
<rect x="44.2" y="329.2" width="4.7" height="1.6" fill="#fff"/>
<rect x="44.2" y="334.8" width="4.7" height="1.2" fill="#fff"/>
<rect x="44.2" y="340.4" width="4.7" height="1.1" fill="#fff"/>
<rect x="44.2" y="318" width="4.7" height="0.9" fill="#fff"/>
<rect x="44.7" y="319.9" width="3.4" height="3" fill="#fff"/>
<rect x="43.2" y="345" width="6.8" height="13.5" fill="#000"/>
<rect x="44.2" y="346" width="4.7" height="1.2" fill="#fff"/>
<rect x="44.2" y="351" width="4.7" height="1.9" fill="#fff"/>
<rect x="44.2" y="356.8" width="4.7" height="1" fill="#fff"/>
<rect x="43.2" y="361.1" width="6.8" height="30.7" fill="#000"/>
<rect x="44.2" y="362.1" width="4.9" height="28.7" fill="#fff"/>
<rect x="44.2" y="368.3" width="3.8" height="4.2" fill="#000"/>
<rect x="44.2" y="374.4" width="3.8" height="3.4" fill="#000"/>
<rect x="44.2" y="380" width="3.8" height="3.5" fill="#000"/>
<rect x="44.2" y="386" width="3.8" height="4.2" fill="#000"/>
<rect x="44.5" y="362.7" width="3.5" height="3.7" fill="#000"/>
<rect x="45.5" y="363.7" width="1.5" height="1.7" fill="#fff"/>
<rect x="43" y="393" width="7" height="19.8" fill="#000"/>
<rect x="44" y="394" width="5.1" height="17.8" fill="#fff"/>
<rect x="44" y="400.5" width="4" height="4.2" fill="#000"/>
<rect x="44" y="406.7" width="4" height="4.5" fill="#000"/>
<rect x="44.3" y="394.8" width="3.7" height="3.9" fill="#000"/>
<rect x="45.3" y="395.8" width="1.7" height="1.9" fill="#fff"/>
<rect x="43" y="415" width="7" height="12.8" fill="#000"/>
<rect x="44" y="421" width="4.9" height="1.2" fill="#fff"/>
<rect x="44" y="425.9" width="4.9" height="1.1" fill="#fff"/>
<polygon points="25.44,338.1 26.8,337.7 27.99,335.5 29.69,333.8 33.6,332.1 37.34,331 40.4,330.5 43.8,330.5 43.8,328.5 40.4,328.5 37.34,328 33.6,326.9 29.69,325.2 27.99,323.5 26.8,321.3 25.44,320.9" fill="#000" shape-rendering="geometricPrecision"/>
<rect x="3" y="320" width="24" height="19" fill="#000" rx="3.5" shape-rendering="geometricPrecision"/>
<rect x="5" y="322" width="20" height="14.4" fill="#fff" rx="1.7" shape-rendering="geometricPrecision"/>
<polygon points="24.25,331.8 26.8,331.8 30.2,330.4 34.45,329.5 34.45,329.5 30.2,328.6 26.8,327.2 24.25,327.2" fill="#fff" shape-rendering="geometricPrecision"/>
<text transform="scale(0.68,1)" x="10.07 21.03" y="334" font-size="14.5" fill="#000" stroke="#000" stroke-width="0.25" vector-effect="non-scaling-stroke">J1</text>
<polygon points="25.44,360 26.8,359.6 27.99,357.4 29.69,355.7 33.6,354 37.34,352.9 40.4,352.4 43.8,352.4 43.8,350.4 40.4,350.4 37.34,349.9 33.6,348.8 29.69,347.1 27.99,345.4 26.8,343.2 25.44,342.8" fill="#000" shape-rendering="geometricPrecision"/>
<rect x="3" y="341.9" width="24" height="18.9" fill="#000" rx="3.5" shape-rendering="geometricPrecision"/>
<rect x="5" y="343.9" width="20" height="14.3" fill="#fff" rx="1.7" shape-rendering="geometricPrecision"/>
<polygon points="24.25,353.7 26.8,353.7 30.2,352.3 34.45,351.4 34.45,351.4 30.2,350.5 26.8,349.1 24.25,349.1" fill="#fff" shape-rendering="geometricPrecision"/>
<text transform="scale(0.68,1)" x="10.07 22.52" y="354.8" font-size="14.5" fill="#000" stroke="#000" stroke-width="0.25" vector-effect="non-scaling-stroke">J2</text>
<polygon points="25.44,384.9 26.8,384.5 27.99,382.3 29.69,380.6 33.6,378.9 37.34,377.8 40.4,377.3 43.8,377.3 43.8,375.3 40.4,375.3 37.34,374.8 33.6,373.7 29.69,372 27.99,370.3 26.8,368.1 25.44,367.7" fill="#000" shape-rendering="geometricPrecision"/>
<rect x="3" y="367.2" width="24" height="18.9" fill="#000" rx="3.5" shape-rendering="geometricPrecision"/>
<rect x="5" y="369.2" width="20" height="14.3" fill="#fff" rx="1.7" shape-rendering="geometricPrecision"/>
<polygon points="24.25,378.6 26.8,378.6 30.2,377.2 34.45,376.3 34.45,376.3 30.2,375.4 26.8,374 24.25,374" fill="#fff" shape-rendering="geometricPrecision"/>
<text transform="scale(0.68,1)" x="11.39 22.43" y="382" font-size="14.5" fill="#000" stroke="#000" stroke-width="0.25" vector-effect="non-scaling-stroke">J3</text>
<polygon points="25.44,408.9 26.8,408.5 27.99,406.3 29.69,404.6 33.6,402.9 37.34,401.8 40.4,401.3 43.8,401.3 43.8,399.3 40.4,399.3 37.34,398.8 33.6,397.7 29.69,396 27.99,394.3 26.8,392.1 25.44,391.7" fill="#000" shape-rendering="geometricPrecision"/>
<rect x="3" y="391.2" width="24" height="18.6" fill="#000" rx="3.5" shape-rendering="geometricPrecision"/>
<rect x="5" y="393.2" width="20" height="14" fill="#fff" rx="1.7" shape-rendering="geometricPrecision"/>
<polygon points="24.25,402.6 26.8,402.6 30.2,401.2 34.45,400.3 34.45,400.3 30.2,399.4 26.8,398 24.25,398" fill="#fff" shape-rendering="geometricPrecision"/>
<text transform="scale(0.68,1)" x="11.39 21.77" y="404.6" font-size="14.5" fill="#000" stroke="#000" stroke-width="0.25" vector-effect="non-scaling-stroke">J4</text>
<polygon points="25.44,428.6 26.8,428.2 27.99,426 29.69,424.3 33.6,422.6 37.34,421.5 40.4,421 43.8,421 43.8,419 40.4,419 37.34,418.5 33.6,417.4 29.69,415.7 27.99,414 26.8,411.8 25.44,411.4" fill="#000" shape-rendering="geometricPrecision"/>
<rect x="3" y="410.9" width="24" height="18.7" fill="#000" rx="3.5" shape-rendering="geometricPrecision"/>
<rect x="5" y="412.9" width="20" height="14.1" fill="#fff" rx="1.7" shape-rendering="geometricPrecision"/>
<polygon points="24.25,422.3 26.8,422.3 30.2,420.9 34.45,420 34.45,420 30.2,419.1 26.8,417.7 24.25,417.7" fill="#fff" shape-rendering="geometricPrecision"/>
<text transform="scale(0.68,1)" x="11.39 21.96" y="424.6" font-size="14.5" fill="#000" stroke="#000" stroke-width="0.25" vector-effect="non-scaling-stroke">J5</text>
<rect x="62" y="368" width="13" height="19" fill="#000"/>
<rect x="63" y="369" width="11" height="17" fill="#fff"/>
<rect x="63" y="369.8" width="5" height="3.8" fill="#000"/>
<rect x="68.9" y="369.8" width="4.2" height="3.8" fill="#000"/>
<rect x="63" y="375.8" width="5" height="3.8" fill="#000"/>
<rect x="68.9" y="375.8" width="4.2" height="3.8" fill="#000"/>
<rect x="63" y="381.6" width="5" height="4.4" fill="#000"/>
<rect x="68.9" y="381.6" width="4.2" height="4.4" fill="#000"/>
<rect x="64.2" y="382.6" width="2.8" height="2.4" fill="#fff"/>
<text transform="scale(0.88,1)" x="61.94" y="371.5" font-size="11.6" fill="#000" stroke="#000" stroke-width="0.25" vector-effect="non-scaling-stroke">3</text>
<text transform="scale(0.66,1)" x="113.37" y="388.5" font-size="11.6" fill="#000" stroke="#000" stroke-width="0.25" vector-effect="non-scaling-stroke">4</text>
<polygon points="92.02,366.3 90.6,366.7 87.76,368.3 84.21,369.4 79.95,370.2 76.4,370.3 76.4,372.3 79.95,372.4 84.21,373.2 87.76,374.3 90.6,375.9 92.02,376.3" fill="#000" shape-rendering="geometricPrecision"/>
<rect x="89" y="363.4" width="35" height="17" fill="#000" rx="3" shape-rendering="geometricPrecision"/>
<rect x="90.7" y="365.2" width="31.3" height="13.4" fill="#fff" rx="1.2" shape-rendering="geometricPrecision"/>
<polygon points="93.44,368.2 90.6,368.6 87.76,370.6 83.5,371.3 83.5,371.3 87.76,372 90.6,374 93.44,374.4" fill="#fff" shape-rendering="geometricPrecision"/>
<text transform="scale(0.68,1)" x="139.48 150.07 163.84" y="376" font-size="14.5" fill="#000" stroke="#000" stroke-width="0.25" vector-effect="non-scaling-stroke">JP7</text>
<rect x="372.4" y="478" width="18.6" height="13" fill="#000"/>
<rect x="373.4" y="479" width="15.6" height="1" fill="#fff"/>
<rect x="373.4" y="479" width="1" height="11" fill="#fff"/>
<rect x="375.4" y="481.2" width="2.6" height="3" fill="#fff"/>
<rect x="375.4" y="486" width="2.6" height="3" fill="#fff"/>
<rect x="379.6" y="480" width="1.1" height="10" fill="#fff"/>
<rect x="384.6" y="484" width="1.1" height="6" fill="#fff"/>
<rect x="392.4" y="478" width="18.4" height="13" fill="#000"/>
<rect x="393.4" y="479" width="15.4" height="1" fill="#fff"/>
<rect x="393.4" y="479" width="1" height="11" fill="#fff"/>
<rect x="395.4" y="481.2" width="2.6" height="3" fill="#fff"/>
<rect x="395.4" y="486" width="2.6" height="3" fill="#fff"/>
<rect x="399.6" y="480" width="1.1" height="10" fill="#fff"/>
<rect x="404.6" y="484" width="1.1" height="6" fill="#fff"/>
<rect x="412.2" y="478" width="19.8" height="13" fill="#000"/>
<rect x="413.2" y="479" width="16.8" height="1" fill="#fff"/>
<rect x="413.2" y="479" width="1" height="11" fill="#fff"/>
<rect x="415.2" y="481.2" width="2.6" height="3" fill="#fff"/>
<rect x="415.2" y="486" width="2.6" height="3" fill="#fff"/>
<rect x="419.4" y="480" width="1.1" height="10" fill="#fff"/>
<rect x="423.6" y="481" width="1.1" height="9" fill="#fff"/>
<rect x="427.8" y="481" width="1.1" height="9" fill="#fff"/>
<polygon points="356.85,471.88 360.32,474.84 364.14,477.45 369.02,481.14 372.49,484.1 373.91,482.7 371.02,479.18 367.42,474.23 364.88,470.36 361.99,466.84" fill="#000" shape-rendering="geometricPrecision"/>
<rect x="331.4" y="458.2" width="34.8" height="17.5" fill="#000" rx="3.5" shape-rendering="geometricPrecision"/>
<rect x="333.4" y="460.2" width="30.4" height="13.1" fill="#fff" rx="1.7" shape-rendering="geometricPrecision"/>
<polygon points="359.27,471.63 361.67,473.51 364.22,475.25 367.9,478 367.9,478 365.22,474.27 363.53,471.69 361.69,469.25" fill="#fff" shape-rendering="geometricPrecision"/>
<text transform="scale(0.68,1)" x="495.51 504.86 517.54" y="470.8" font-size="14.5" fill="#000" stroke="#000" stroke-width="0.25" vector-effect="non-scaling-stroke">JP5</text>
<polygon points="361.89,502.62 364.8,499.33 367.36,495.67 370.98,491.02 373.89,487.73 372.51,486.27 369.06,488.98 364.2,492.33 360.4,494.67 356.95,497.38" fill="#000" shape-rendering="geometricPrecision"/>
<rect x="331.4" y="493.9" width="34.8" height="17.6" fill="#000" rx="3.5" shape-rendering="geometricPrecision"/>
<rect x="333.4" y="495.9" width="30.4" height="13.2" fill="#fff" rx="1.7" shape-rendering="geometricPrecision"/>
<polygon points="361.65,500.24 363.49,497.95 365.2,495.51 367.9,492 367.9,492 364.24,494.49 361.71,496.05 359.31,497.76" fill="#fff" shape-rendering="geometricPrecision"/>
<text transform="scale(0.68,1)" x="495.51 504.95 517.57" y="507.3" font-size="14.5" fill="#000" stroke="#000" stroke-width="0.25" vector-effect="non-scaling-stroke">JP6</text>
<polygon points="396.93,460.82 397.3,462.44 398.63,466.49 399.32,472.14 399.4,478.58 401.4,478.62 401.72,472.18 402.62,466.56 404.1,462.56 404.53,460.96" fill="#000" shape-rendering="geometricPrecision"/>
<rect x="384.8" y="444.7" width="33.1" height="18" fill="#000" rx="3.5" shape-rendering="geometricPrecision"/>
<rect x="386.8" y="446.7" width="28.7" height="13.6" fill="#fff" rx="1.7" shape-rendering="geometricPrecision"/>
<polygon points="398.86,459.24 399.2,462.47 399.94,465.71 400.55,470.55 400.55,470.55 401.34,465.73 402.2,462.53 402.66,459.32" fill="#fff" shape-rendering="geometricPrecision"/>
<text transform="scale(0.68,1)" x="574.77 585.3 599.19" y="457.7" font-size="14.5" fill="#000" stroke="#000" stroke-width="0.25" vector-effect="non-scaling-stroke">JP3</text>
<polygon points="405.84,509.12 405.4,507.42 403.9,503.18 402.96,497.21 402.6,490.38 400.6,490.42 400.56,497.27 399.9,503.27 398.6,507.58 398.24,509.3" fill="#000" shape-rendering="geometricPrecision"/>
<rect x="386.4" y="507.3" width="32.9" height="16.9" fill="#000" rx="3.5" shape-rendering="geometricPrecision"/>
<rect x="388.4" y="509.3" width="28.5" height="12.5" fill="#fff" rx="1.7" shape-rendering="geometricPrecision"/>
<polygon points="403.98,510.88 403.5,507.46 402.62,504.06 401.8,498.95 401.8,498.95 401.22,504.1 400.5,507.54 400.18,510.96" fill="#fff" shape-rendering="geometricPrecision"/>
<text transform="scale(0.68,1)" x="574.77 585.08 598.98" y="520" font-size="14.5" fill="#000" stroke="#000" stroke-width="0.25" vector-effect="non-scaling-stroke">JP4</text>
<polygon points="441.7,467.87 439.16,470.91 436.97,474.32 433.84,478.64 431.3,481.69 432.7,483.11 435.8,480.64 440.19,477.6 443.64,475.49 446.74,473.01" fill="#000" shape-rendering="geometricPrecision"/>
<rect x="437.8" y="458.5" width="33.7" height="17.7" fill="#000" rx="3.5" shape-rendering="geometricPrecision"/>
<rect x="439.8" y="460.5" width="29.3" height="13.3" fill="#fff" rx="1.7" shape-rendering="geometricPrecision"/>
<polygon points="442.09,470.15 440.49,472.27 439.03,474.54 436.7,477.8 436.7,477.8 440.01,475.54 442.31,474.13 444.47,472.57" fill="#fff" shape-rendering="geometricPrecision"/>
<text transform="scale(0.68,1)" x="652.71 662.67 675.44" y="472" font-size="14.5" fill="#000" stroke="#000" stroke-width="0.25" vector-effect="non-scaling-stroke">JP1</text>
<polygon points="446.74,497.59 443.64,495.11 440.19,493 435.8,489.96 432.7,487.49 431.3,488.91 433.84,491.96 436.97,496.28 439.16,499.69 441.7,502.73" fill="#000" shape-rendering="geometricPrecision"/>
<rect x="437.8" y="494.2" width="33.7" height="18.2" fill="#000" rx="3.5" shape-rendering="geometricPrecision"/>
<rect x="439.8" y="496.2" width="29.3" height="13.8" fill="#fff" rx="1.7" shape-rendering="geometricPrecision"/>
<polygon points="444.47,498.03 442.31,496.47 440.01,495.06 436.7,492.8 436.7,492.8 439.03,496.06 440.49,498.33 442.09,500.45" fill="#fff" shape-rendering="geometricPrecision"/>
<text transform="scale(0.68,1)" x="652.71 662.86 676.19" y="508.2" font-size="14.5" fill="#000" stroke="#000" stroke-width="0.25" vector-effect="non-scaling-stroke">JP2</text>
<rect x="585" y="469" width="113.2" height="24" fill="#000"/>
<rect x="586" y="470" width="111.2" height="22" fill="#fff"/>
<rect x="586" y="475.8" width="111.2" height="1.1" fill="#000" shape-rendering="geometricPrecision"/>
<rect x="587.2" y="472" width="7.5" height="2.9" fill="#000" rx="1.2" shape-rendering="geometricPrecision"/>
<rect x="588.5" y="472.95" width="4.9" height="1" fill="#fff" rx="0.5" shape-rendering="geometricPrecision"/>
<rect x="589.1" y="474.6" width="4" height="1.4" fill="#000" shape-rendering="geometricPrecision"/>
<rect x="587.2" y="479" width="7.6" height="1.9" fill="#000" rx="0.6" shape-rendering="geometricPrecision"/>
<rect x="591" y="482.2" width="7.8" height="7.7" fill="#000" shape-rendering="geometricPrecision"/>
<rect x="592.3" y="483.5" width="5.2" height="5.1" fill="#fff" shape-rendering="geometricPrecision"/>
<rect x="596.56" y="472" width="7.5" height="2.9" fill="#000" rx="1.2" shape-rendering="geometricPrecision"/>
<rect x="597.86" y="472.95" width="4.9" height="1" fill="#fff" rx="0.5" shape-rendering="geometricPrecision"/>
<rect x="598.46" y="474.6" width="4" height="1.4" fill="#000" shape-rendering="geometricPrecision"/>
<rect x="596.56" y="479" width="7.6" height="1.9" fill="#000" rx="0.6" shape-rendering="geometricPrecision"/>
<rect x="600.42" y="482.2" width="7.8" height="7.7" fill="#000" shape-rendering="geometricPrecision"/>
<rect x="601.72" y="483.5" width="5.2" height="5.1" fill="#fff" shape-rendering="geometricPrecision"/>
<rect x="605.92" y="472" width="7.5" height="2.9" fill="#000" rx="1.2" shape-rendering="geometricPrecision"/>
<rect x="607.22" y="472.95" width="4.9" height="1" fill="#fff" rx="0.5" shape-rendering="geometricPrecision"/>
<rect x="607.82" y="474.6" width="4" height="1.4" fill="#000" shape-rendering="geometricPrecision"/>
<rect x="605.92" y="479" width="7.6" height="1.9" fill="#000" rx="0.6" shape-rendering="geometricPrecision"/>
<rect x="609.84" y="482.2" width="7.8" height="7.7" fill="#000" shape-rendering="geometricPrecision"/>
<rect x="611.14" y="483.5" width="5.2" height="5.1" fill="#fff" shape-rendering="geometricPrecision"/>
<rect x="615.28" y="472" width="7.5" height="2.9" fill="#000" rx="1.2" shape-rendering="geometricPrecision"/>
<rect x="616.58" y="472.95" width="4.9" height="1" fill="#fff" rx="0.5" shape-rendering="geometricPrecision"/>
<rect x="617.18" y="474.6" width="4" height="1.4" fill="#000" shape-rendering="geometricPrecision"/>
<rect x="615.28" y="479" width="7.6" height="1.9" fill="#000" rx="0.6" shape-rendering="geometricPrecision"/>
<rect x="619.26" y="482.2" width="7.8" height="7.7" fill="#000" shape-rendering="geometricPrecision"/>
<rect x="620.56" y="483.5" width="5.2" height="5.1" fill="#fff" shape-rendering="geometricPrecision"/>
<rect x="624.64" y="472" width="7.5" height="2.9" fill="#000" rx="1.2" shape-rendering="geometricPrecision"/>
<rect x="625.94" y="472.95" width="4.9" height="1" fill="#fff" rx="0.5" shape-rendering="geometricPrecision"/>
<rect x="626.54" y="474.6" width="4" height="1.4" fill="#000" shape-rendering="geometricPrecision"/>
<rect x="624.64" y="479" width="7.6" height="1.9" fill="#000" rx="0.6" shape-rendering="geometricPrecision"/>
<rect x="628.68" y="482.2" width="7.8" height="7.7" fill="#000" shape-rendering="geometricPrecision"/>
<rect x="629.98" y="483.5" width="5.2" height="5.1" fill="#fff" shape-rendering="geometricPrecision"/>
<rect x="634" y="472" width="7.5" height="2.9" fill="#000" rx="1.2" shape-rendering="geometricPrecision"/>
<rect x="635.3" y="472.95" width="4.9" height="1" fill="#fff" rx="0.5" shape-rendering="geometricPrecision"/>
<rect x="635.9" y="474.6" width="4" height="1.4" fill="#000" shape-rendering="geometricPrecision"/>
<rect x="634" y="479" width="7.6" height="1.9" fill="#000" rx="0.6" shape-rendering="geometricPrecision"/>
<rect x="638.1" y="482.2" width="7.8" height="7.7" fill="#000" shape-rendering="geometricPrecision"/>
<rect x="639.4" y="483.5" width="5.2" height="5.1" fill="#fff" shape-rendering="geometricPrecision"/>
<rect x="643.36" y="472" width="7.5" height="2.9" fill="#000" rx="1.2" shape-rendering="geometricPrecision"/>
<rect x="644.66" y="472.95" width="4.9" height="1" fill="#fff" rx="0.5" shape-rendering="geometricPrecision"/>
<rect x="645.26" y="474.6" width="4" height="1.4" fill="#000" shape-rendering="geometricPrecision"/>
<rect x="643.36" y="479" width="7.6" height="1.9" fill="#000" rx="0.6" shape-rendering="geometricPrecision"/>
<rect x="647.52" y="482.2" width="7.8" height="7.7" fill="#000" shape-rendering="geometricPrecision"/>
<rect x="648.82" y="483.5" width="5.2" height="5.1" fill="#fff" shape-rendering="geometricPrecision"/>
<rect x="652.72" y="472" width="7.5" height="2.9" fill="#000" rx="1.2" shape-rendering="geometricPrecision"/>
<rect x="654.02" y="472.95" width="4.9" height="1" fill="#fff" rx="0.5" shape-rendering="geometricPrecision"/>
<rect x="654.62" y="474.6" width="4" height="1.4" fill="#000" shape-rendering="geometricPrecision"/>
<rect x="652.72" y="479" width="7.6" height="1.9" fill="#000" rx="0.6" shape-rendering="geometricPrecision"/>
<rect x="656.94" y="482.2" width="7.8" height="7.7" fill="#000" shape-rendering="geometricPrecision"/>
<rect x="658.24" y="483.5" width="5.2" height="5.1" fill="#fff" shape-rendering="geometricPrecision"/>
<rect x="662.08" y="472" width="7.5" height="2.9" fill="#000" rx="1.2" shape-rendering="geometricPrecision"/>
<rect x="663.38" y="472.95" width="4.9" height="1" fill="#fff" rx="0.5" shape-rendering="geometricPrecision"/>
<rect x="663.98" y="474.6" width="4" height="1.4" fill="#000" shape-rendering="geometricPrecision"/>
<rect x="662.08" y="479" width="7.6" height="1.9" fill="#000" rx="0.6" shape-rendering="geometricPrecision"/>
<rect x="666.36" y="482.2" width="7.8" height="7.7" fill="#000" shape-rendering="geometricPrecision"/>
<rect x="667.66" y="483.5" width="5.2" height="5.1" fill="#fff" shape-rendering="geometricPrecision"/>
<rect x="671.44" y="472" width="7.5" height="2.9" fill="#000" rx="1.2" shape-rendering="geometricPrecision"/>
<rect x="672.74" y="472.95" width="4.9" height="1" fill="#fff" rx="0.5" shape-rendering="geometricPrecision"/>
<rect x="673.34" y="474.6" width="4" height="1.4" fill="#000" shape-rendering="geometricPrecision"/>
<rect x="671.44" y="479" width="7.6" height="1.9" fill="#000" rx="0.6" shape-rendering="geometricPrecision"/>
<rect x="675.78" y="482.2" width="7.8" height="7.7" fill="#000" shape-rendering="geometricPrecision"/>
<rect x="677.08" y="483.5" width="5.2" height="5.1" fill="#fff" shape-rendering="geometricPrecision"/>
<rect x="680.8" y="472" width="7.5" height="2.9" fill="#000" rx="1.2" shape-rendering="geometricPrecision"/>
<rect x="682.1" y="472.95" width="4.9" height="1" fill="#fff" rx="0.5" shape-rendering="geometricPrecision"/>
<rect x="682.7" y="474.6" width="4" height="1.4" fill="#000" shape-rendering="geometricPrecision"/>
<rect x="680.8" y="479" width="7.6" height="1.9" fill="#000" rx="0.6" shape-rendering="geometricPrecision"/>
<rect x="685.2" y="482.2" width="7.8" height="7.7" fill="#000" shape-rendering="geometricPrecision"/>
<rect x="686.5" y="483.5" width="5.2" height="5.1" fill="#fff" shape-rendering="geometricPrecision"/>
<rect x="690.16" y="472" width="7.5" height="2.9" fill="#000" rx="1.2" shape-rendering="geometricPrecision"/>
<rect x="691.46" y="472.95" width="4.9" height="1" fill="#fff" rx="0.5" shape-rendering="geometricPrecision"/>
<rect x="692.06" y="474.6" width="4" height="1.4" fill="#000" shape-rendering="geometricPrecision"/>
<rect x="690.16" y="479" width="7.6" height="1.9" fill="#000" rx="0.6" shape-rendering="geometricPrecision"/>
<rect x="585" y="482.4" width="3.6" height="7.2" fill="#000"/>
<rect x="586" y="483.6" width="1.6" height="4.8" fill="#fff"/>
<rect x="585" y="485" width="1.2" height="2" fill="#fff"/>
<rect x="586" y="485" width="2.6" height="2" fill="#000"/>
<rect x="694.8" y="482.4" width="3.4" height="7.2" fill="#000"/>
<rect x="695.8" y="483.6" width="1.4" height="4.8" fill="#fff"/>
<rect x="697.2" y="485" width="1" height="2" fill="#fff"/>
<rect x="775" y="417" width="30.4" height="37.8" fill="#000"/>
<rect x="800" y="413" width="5.4" height="46" fill="#000"/>
<rect x="802" y="411" width="3.4" height="50" fill="#000"/>
<rect x="773" y="424" width="2" height="23.6" fill="#000"/>
<rect x="769" y="425.8" width="4.6" height="9" fill="#000"/>
<rect x="770" y="426.8" width="2.8" height="7" fill="#fff"/>
<rect x="769" y="437.2" width="4.6" height="8.8" fill="#000"/>
<rect x="770" y="438.2" width="2.8" height="6.8" fill="#fff"/>
<rect x="774" y="434.2" width="2" height="3.8" fill="#fff"/>
</svg>
</body>
</html>
